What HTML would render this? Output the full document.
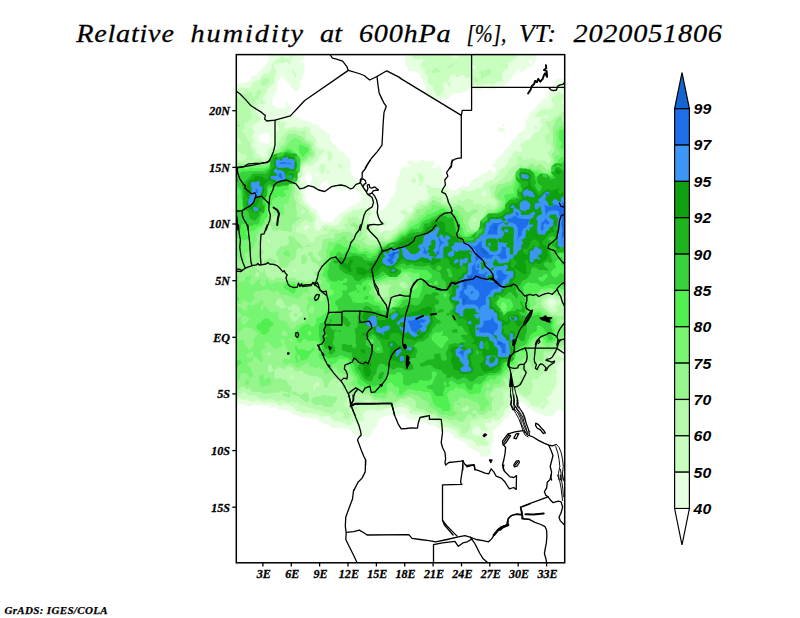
<!DOCTYPE html>
<html><head><meta charset="utf-8"><title>Relative humidity at 600hPa</title>
<style>
html,body{margin:0;padding:0;background:#fff;}
body{width:800px;height:618px;overflow:hidden;font-family:"Liberation Sans",sans-serif;}
svg{display:block}
.t{font-family:"Liberation Serif",serif;font-style:italic;font-size:25px;fill:#000;stroke:#000;stroke-width:0.25}
.ax{font-family:"Liberation Serif",serif;font-style:italic;font-weight:bold;font-size:13px;fill:#000;stroke:#000;stroke-width:0.3}
.cb{font-family:"Liberation Sans",sans-serif;font-style:italic;font-weight:bold;font-size:15px;fill:#000}
.ft{font-family:"Liberation Serif",serif;font-style:italic;font-weight:bold;font-size:11px;fill:#000;stroke:#000;stroke-width:0.25}
.b{fill:none;stroke:#000;stroke-width:1.3;stroke-linejoin:round;stroke-linecap:round}
</style></head><body>
<svg width="800" height="618" viewBox="0 0 800 618">
<rect width="800" height="618" fill="#fff"/>
<text class="t" transform="translate(76.2,42.2) scale(1.130,1)" x="0" y="0" textLength="86.5" lengthAdjust="spacing">Relative</text>
<text class="t" transform="translate(190.5,42.2) scale(1.130,1)" x="0" y="0" textLength="99.6" lengthAdjust="spacing">humidity</text>
<text class="t" transform="translate(320,42.2) scale(1.130,1)" x="0" y="0" textLength="19.5" lengthAdjust="spacing">at</text>
<text class="t" transform="translate(359,42.2) scale(1.130,1)" x="0" y="0" textLength="81.0" lengthAdjust="spacing">600hPa</text>
<text class="t" x="466.5" y="42.2" textLength="40.0" lengthAdjust="spacingAndGlyphs">[%],</text>
<text class="t" transform="translate(519,42.2) scale(1.025,1)" x="0" y="0" textLength="36.1" lengthAdjust="spacing">VT:</text>
<text class="t" transform="translate(573.5,42.2) scale(1.130,1)" x="0" y="0" textLength="131.4" lengthAdjust="spacing">2020051806</text>
<defs><clipPath id="mc"><rect x="236.3" y="54.6" width="328.4" height="508.2"/></clipPath></defs>
<g clip-path="url(#mc)">
<path fill="#e6ffe1" fill-rule="evenodd" d="M504.3,124.1 502.8,124.1 501.8,125.1 501.8,126.1 503.3,127.1 502.3,128.6 499.8,127.1 498.3,128.1 497.8,130.6 499.3,132.1 503.8,132.1 504.8,130.6 504.8,129.1 503.8,128.1 503.8,127.1 504.8,125.6ZM404.8,62.6 405.8,65.6 407.3,67.1 408.3,70.1 409.8,71.6 413.8,71.1 419.3,73.6 420.8,77.6 424.3,83.1 424.3,86.1 425.3,88.6 425.3,90.6 423.8,92.6 423.8,93.6 425.3,93.6 427.3,94.6 431.3,98.6 433.3,99.6 435.8,99.6 436.3,100.1 437.8,99.6 442.3,99.6 442.8,100.1 444.3,100.1 448.8,97.6 452.8,93.1 460.3,93.6 467.3,90.6 469.3,88.6 473.8,89.1 476.3,90.6 480.3,90.6 483.8,88.6 486.8,88.6 488.8,89.6 494.3,89.6 497.3,87.6 502.3,87.1 505.8,85.1 508.3,82.6 510.3,78.6 513.3,76.1 517.8,68.6 518.8,68.6 519.8,69.6 520.3,72.1 521.8,72.6 525.3,70.1 528.8,66.6 531.3,66.1 535.8,61.1 536.3,54.6 404.8,54.6 405.3,55.6 405.3,59.1 405.8,59.6ZM528.8,61.6 529.8,60.1 530.8,60.1 532.8,62.6 531.8,63.6 530.3,63.6ZM268.3,54.6 268.3,56.6 269.3,59.1 268.3,62.1 263.3,67.1 262.8,68.6 258.3,72.6 258.3,74.1 256.8,75.6 254.3,75.6 251.8,76.6 250.3,78.1 249.8,80.1 247.3,82.1 243.8,82.6 239.3,84.1 236.3,84.1 236.3,404.6 239.3,404.6 239.8,404.1 240.8,404.6 244.3,404.6 247.3,406.1 251.3,406.1 253.8,404.6 254.8,404.6 256.3,405.6 261.3,405.6 261.8,405.1 262.8,405.6 267.3,405.6 270.3,407.6 274.3,407.6 274.8,407.1 278.8,409.6 283.3,410.1 283.8,410.6 288.3,410.6 290.3,411.6 291.8,414.1 293.8,415.1 298.3,415.6 302.3,417.6 307.3,417.6 310.3,418.6 316.8,418.6 319.3,421.1 321.8,422.1 323.3,424.1 324.8,424.6 325.8,424.1 328.3,424.1 331.3,427.6 332.8,428.1 336.8,428.1 337.3,428.6 339.8,427.6 342.3,427.6 344.8,429.1 347.8,429.1 350.8,430.6 355.3,435.6 359.3,435.6 365.3,437.6 368.3,437.1 371.3,435.6 372.3,433.1 372.3,431.1 376.3,426.6 380.3,417.6 385.8,416.6 387.8,415.6 397.3,416.1 404.3,414.1 405.8,417.6 408.3,418.1 413.3,420.6 418.8,421.1 423.3,422.6 426.8,422.6 429.8,425.1 433.8,425.1 438.3,429.1 443.8,431.6 448.8,432.6 451.8,434.1 454.8,438.1 457.3,438.6 460.3,440.6 466.3,442.6 467.3,444.1 467.8,446.6 469.3,448.1 471.3,448.6 478.8,452.6 480.3,454.1 480.8,455.6 482.8,457.1 487.8,456.6 490.8,454.1 491.3,452.6 490.8,448.1 493.8,441.1 493.8,437.6 493.3,437.1 492.8,431.6 497.3,427.6 504.8,419.1 508.3,417.1 512.3,409.6 518.8,402.1 519.8,401.6 522.8,402.1 524.3,403.1 526.8,406.6 529.3,408.6 530.3,408.6 533.3,410.1 536.8,413.1 542.3,414.6 545.3,416.6 551.8,416.1 553.8,415.1 556.3,411.6 559.3,410.1 561.3,410.1 563.3,411.6 564.3,411.6 564.3,78.6 559.8,78.6 556.8,79.6 552.8,86.1 548.8,90.1 548.3,91.1 548.8,92.6 548.3,95.6 545.8,98.1 541.8,100.1 540.3,102.6 536.8,105.6 535.3,108.1 529.8,113.1 528.8,114.6 528.8,116.1 529.3,116.6 528.8,118.1 527.8,119.1 526.3,119.1 525.8,117.6 526.8,115.1 525.3,115.6 525.3,117.6 525.8,118.1 525.3,124.6 525.8,125.6 524.8,129.1 522.8,131.1 521.8,131.1 520.3,132.1 516.8,135.6 515.3,138.1 512.3,140.6 510.3,145.1 505.3,149.6 502.8,154.1 500.3,155.6 497.8,158.1 496.3,162.1 495.3,163.1 492.8,164.1 492.3,166.6 495.8,167.6 495.8,170.6 494.3,172.6 492.3,172.6 490.8,170.1 489.3,170.1 486.3,173.1 484.3,174.1 482.8,174.1 480.8,175.1 478.8,177.1 473.3,179.1 470.3,182.1 468.8,185.6 467.8,186.6 465.3,186.6 464.8,186.1 461.8,186.6 457.8,188.6 456.3,190.1 452.8,190.6 450.3,189.6 444.8,183.6 443.8,177.6 442.3,174.1 442.3,170.6 441.3,167.6 438.8,165.1 435.8,164.1 432.8,160.6 430.3,160.6 428.8,161.6 425.3,161.6 423.3,160.1 421.3,159.6 417.3,163.1 415.8,163.1 412.3,160.6 408.3,160.6 406.8,161.6 406.8,162.6 409.8,165.6 409.8,166.6 409.3,167.1 403.8,167.1 402.3,168.1 399.8,172.1 399.8,175.1 397.3,179.6 396.3,182.6 396.3,184.6 395.8,185.1 395.8,191.1 394.8,192.1 394.8,193.6 393.3,196.6 390.3,198.6 389.8,201.1 387.3,204.1 385.8,207.6 383.3,210.1 379.8,210.6 377.8,208.1 377.8,206.1 375.3,201.6 374.3,196.6 373.3,195.6 369.8,195.6 368.8,195.1 367.8,193.6 367.8,192.6 362.3,192.6 361.8,192.1 361.8,191.1 362.8,189.6 362.8,183.1 363.3,182.6 362.8,181.1 361.8,180.1 359.3,180.1 358.3,181.1 356.3,181.1 355.3,180.1 354.3,177.6 351.3,174.6 351.3,172.1 350.3,170.1 348.3,169.1 348.8,168.1 349.8,168.1 350.8,167.1 351.3,165.6 350.3,162.6 350.3,159.1 347.3,157.1 344.3,153.6 340.8,151.6 337.8,148.6 336.8,146.6 332.8,143.6 332.3,142.1 330.3,140.1 329.8,138.6 330.3,135.6 328.8,133.6 326.3,133.1 323.3,130.1 320.8,129.1 318.8,125.6 316.8,124.1 313.8,124.6 310.8,122.1 302.3,120.1 292.3,114.1 289.8,114.1 288.3,113.1 290.8,110.6 290.8,108.6 287.8,105.1 288.3,104.1 287.8,101.6 286.8,101.1 285.8,102.1 286.3,106.1 284.3,108.6 278.8,108.1 275.3,106.1 273.3,106.1 272.3,105.1 272.3,100.6 272.8,100.1 272.3,99.6 272.3,98.1 273.3,96.1 276.8,92.1 276.8,90.1 277.3,89.6 277.3,82.6 281.3,76.6 283.8,78.1 288.3,82.6 290.3,86.1 294.8,91.1 296.8,91.6 299.3,88.6 300.8,85.6 300.3,81.6 302.8,79.6 302.8,75.1 304.8,71.6 304.3,70.1 304.8,63.6 304.3,63.1 301.3,63.6 300.3,62.1 303.8,58.6 304.8,54.6ZM316.3,173.1 318.3,174.6 316.8,176.6 315.3,175.1 315.3,174.1ZM306.3,173.6 307.8,172.1 309.3,172.1 310.8,173.6 311.8,177.1 311.8,180.6 310.3,182.6 309.8,184.6 311.8,186.1 315.3,190.1 318.3,190.6 320.3,188.1 320.3,185.1 320.8,184.1 326.3,180.1 327.3,180.1 328.3,183.6 331.8,187.1 333.8,188.1 337.3,188.6 340.3,190.1 345.3,190.1 347.8,189.1 350.3,187.1 351.8,187.1 353.3,189.1 358.3,191.6 360.8,192.1 361.3,192.6 361.3,201.1 357.8,203.6 349.3,207.1 345.3,211.1 344.3,211.1 340.3,213.1 332.3,221.6 331.3,222.1 323.3,221.6 320.8,220.1 319.8,216.1 318.3,213.6 317.3,210.1 310.8,206.1 307.8,203.1 305.8,200.1 305.3,196.1 304.8,195.6 304.8,191.1 308.3,185.1 305.3,179.6 305.3,176.6ZM432.3,168.1 432.8,165.6 434.3,164.6 436.8,165.1 437.8,166.6 436.8,168.1 434.8,168.1 434.3,168.6 432.8,168.6ZM258.8,135.1 260.3,134.1 262.3,134.1 264.8,133.1 267.3,133.1 268.3,133.6 269.3,135.1 269.3,137.1 269.8,137.6 269.8,142.1 268.3,143.6 263.8,143.6 262.3,143.1 259.3,140.1 258.3,138.1Z"/>
<path fill="#c8ffbe" fill-rule="evenodd" d="M383.3,221.1 381.3,224.1 382.3,225.6 385.3,226.6 386.8,224.1 386.8,223.1 385.8,221.6ZM415.3,178.6 412.3,178.6 411.3,179.6 412.8,183.1 413.8,183.1 415.3,182.1 416.3,180.1ZM418.3,173.6 417.3,175.1 418.3,176.1 418.3,180.1 419.8,182.1 419.8,183.1 418.8,184.6 418.8,186.1 420.3,186.6 420.8,186.1 420.8,182.6 423.3,181.1 424.3,179.6 421.8,175.1 419.8,173.6ZM326.3,171.6 326.3,172.6 327.8,174.1 329.3,173.6 329.8,172.1 329.3,171.1ZM337.8,163.6 337.8,165.6 339.8,168.1 342.3,167.6 342.3,166.1 338.8,163.6ZM321.3,163.6 319.8,166.1 318.8,169.6 321.3,173.1 321.8,175.1 322.8,175.1 323.3,172.6 324.3,171.6 324.3,170.1 325.8,167.6 325.8,166.6 324.8,164.6ZM327.8,151.1 326.8,152.6 327.8,155.1 327.8,158.6 328.8,160.1 328.8,161.6 329.8,162.1 330.3,161.6 330.3,159.6 332.3,157.6 332.3,155.6 330.8,152.1 329.8,151.1ZM535.3,126.6 534.3,128.1 534.8,129.1 536.3,129.6 537.3,128.1 536.3,126.6ZM563.3,85.1 561.8,86.6 561.8,88.6 564.3,90.1 564.3,85.1ZM291.8,69.6 291.8,71.1 293.3,73.1 293.3,74.1 294.8,77.1 295.8,77.6 296.8,75.6 295.8,73.6 293.8,71.6 293.3,70.1ZM412.8,54.6 412.8,58.1 414.3,59.6 417.8,59.6 418.3,59.1 421.8,58.6 423.3,60.1 422.8,62.1 420.3,64.6 420.3,66.6 421.8,67.1 424.8,70.1 424.8,72.1 424.3,72.6 424.8,73.6 428.3,76.1 428.3,79.1 427.3,81.1 427.3,82.6 428.3,84.1 431.3,85.1 433.3,87.6 433.3,90.1 435.3,92.1 436.8,96.1 438.8,96.1 440.3,94.1 443.3,91.6 443.8,90.6 443.8,87.6 442.3,84.6 443.8,82.6 444.8,82.1 446.3,82.6 448.3,85.6 449.8,85.6 450.8,84.6 450.8,83.1 448.3,81.6 448.3,80.1 449.3,79.1 450.8,75.6 452.3,74.1 454.8,74.6 456.8,77.1 458.3,77.1 459.8,75.6 461.8,74.6 463.3,74.6 465.8,78.1 469.3,77.6 471.3,80.1 469.8,83.1 471.8,85.1 482.8,85.6 487.8,83.6 488.8,83.6 491.8,85.1 493.3,85.1 496.8,82.1 498.3,81.6 502.3,81.6 503.3,80.6 502.3,77.6 502.3,73.1 503.3,71.1 504.8,69.6 507.3,69.1 508.8,68.1 508.3,67.6 508.3,63.1 508.8,62.6 511.8,61.6 514.8,58.6 517.3,57.6 516.3,56.1 516.3,54.6 478.3,54.6 476.8,56.6 475.8,56.6 474.8,54.6 458.8,54.6 458.3,56.1 456.3,58.1 453.3,58.1 452.3,57.6 451.3,56.1 451.3,54.6ZM472.3,64.6 474.3,65.1 475.8,67.1 475.8,68.1 474.3,69.6 472.8,69.6 471.3,68.1 471.3,65.6ZM281.3,54.6 280.8,57.1 278.8,59.6 276.3,59.6 271.8,64.6 270.8,71.1 268.8,73.6 264.8,73.6 263.3,74.1 261.8,75.6 260.8,78.6 259.3,80.1 255.3,81.1 251.8,84.1 251.3,86.6 249.8,88.1 245.3,88.6 243.8,87.6 241.3,87.6 236.3,90.6 237.8,93.6 236.3,94.6 236.3,398.1 239.3,398.1 242.8,400.1 243.8,399.6 247.3,399.6 250.3,401.6 257.8,400.6 259.3,401.6 263.3,402.1 263.8,402.6 267.3,402.6 267.8,402.1 274.8,402.6 278.3,404.6 279.8,406.1 281.3,406.1 282.8,404.1 285.3,404.1 293.8,407.1 294.8,408.1 295.3,410.1 296.8,411.1 300.8,411.6 303.3,413.1 309.3,412.6 311.3,414.1 316.8,414.6 320.8,416.6 326.3,416.6 326.8,416.1 329.8,416.6 332.3,418.6 333.8,421.1 335.3,421.6 337.8,421.1 340.8,422.6 343.8,422.6 346.8,425.1 348.3,425.6 350.3,425.6 350.8,424.6 353.8,422.1 357.8,423.6 359.8,421.6 362.8,421.1 363.8,420.1 363.3,418.6 363.3,413.1 366.3,410.6 372.3,409.6 373.3,410.6 377.8,411.1 378.3,410.6 382.8,410.1 384.8,408.6 386.8,408.6 387.3,408.1 392.3,408.1 395.3,409.1 397.3,407.6 400.3,406.6 403.3,407.6 406.3,407.6 409.3,410.1 409.3,413.1 410.8,414.6 419.8,414.6 424.8,417.6 430.3,417.6 431.8,419.1 432.3,420.6 433.8,420.6 438.3,422.6 439.8,424.1 439.8,425.1 441.8,426.6 443.8,426.6 444.3,427.1 445.3,426.6 446.8,427.6 448.8,427.6 451.3,429.1 455.8,430.1 457.8,432.1 457.8,433.6 459.3,436.6 461.8,437.6 464.3,437.6 467.8,439.6 471.8,439.1 475.8,443.6 477.3,446.1 479.3,446.1 479.8,445.6 484.3,445.6 485.8,446.1 487.3,445.6 488.3,444.6 488.8,442.6 486.3,440.1 481.3,436.6 479.8,436.1 475.8,436.1 472.3,433.6 471.8,431.6 473.8,427.6 475.3,426.1 478.3,426.6 482.3,431.1 484.3,431.1 486.3,432.1 487.8,429.6 485.3,425.6 484.8,423.6 485.8,422.6 488.3,422.6 488.8,423.1 490.8,422.6 491.3,422.1 491.3,420.1 492.8,419.1 495.3,421.1 497.3,421.1 499.3,420.1 504.3,414.1 503.8,412.1 505.3,409.1 509.8,405.6 510.3,404.1 509.8,400.1 510.3,399.6 513.8,399.6 515.3,398.6 515.3,397.1 514.3,395.1 515.8,393.6 517.8,393.6 520.8,397.1 526.3,399.6 527.8,399.6 529.3,401.6 529.8,404.1 532.8,406.6 539.8,406.1 540.8,407.1 541.3,409.1 542.8,409.1 545.3,407.6 546.3,405.1 548.8,403.6 548.8,402.1 546.8,399.6 546.3,398.1 551.3,395.1 551.8,394.1 551.8,390.6 552.3,390.1 553.8,390.1 554.8,389.1 554.8,387.6 556.8,384.6 556.8,382.6 556.3,382.1 556.8,375.6 556.3,375.1 557.3,373.1 557.3,371.6 555.8,368.6 556.3,366.6 557.8,365.1 558.3,363.1 560.8,360.6 564.3,361.1 564.3,357.6 561.3,357.1 557.8,354.6 557.8,354.1 560.8,351.6 564.3,351.6 564.3,103.6 562.8,103.6 561.3,102.6 561.8,101.6 564.3,101.6 564.3,94.1 562.3,94.1 559.8,92.6 558.8,92.6 556.8,95.1 552.8,96.6 551.3,98.6 551.8,101.1 552.8,102.6 552.8,106.1 551.8,108.1 549.8,109.6 542.8,109.1 540.8,110.1 536.3,114.1 535.3,115.6 535.3,117.1 535.8,117.6 537.3,117.6 538.8,116.6 542.3,117.6 540.8,119.1 540.8,122.1 542.3,124.6 542.3,126.1 539.8,128.6 538.8,131.6 537.8,132.6 536.3,131.6 535.3,132.1 528.8,140.6 527.8,140.6 526.3,139.6 525.8,141.1 524.3,142.6 521.3,143.1 519.8,144.6 522.3,149.1 522.3,151.1 521.3,152.1 519.8,152.1 519.3,151.6 516.8,151.6 514.8,150.1 510.8,157.6 508.8,159.6 507.8,162.1 507.8,163.6 506.8,165.1 505.8,165.6 503.8,168.1 500.3,169.1 499.3,170.1 499.3,172.6 495.8,176.1 493.8,179.6 491.8,180.6 489.3,180.6 487.3,182.1 485.3,182.6 483.3,184.6 482.3,187.6 480.3,188.6 479.3,188.6 478.3,187.6 476.8,187.6 474.3,190.6 471.3,190.6 469.3,191.6 466.8,191.6 463.8,190.1 462.3,190.1 461.3,190.6 460.3,194.1 458.3,195.6 454.3,195.6 451.8,198.6 449.3,199.1 448.3,198.6 447.3,197.1 447.3,192.6 446.3,190.6 442.3,188.6 440.3,188.6 438.3,187.6 432.8,188.1 430.8,187.1 428.8,185.1 425.8,184.6 425.8,186.1 427.8,188.6 427.8,192.6 429.3,196.1 428.8,197.6 426.3,200.1 423.8,201.1 422.8,201.1 420.3,199.6 417.8,203.1 415.3,204.6 413.3,206.6 412.3,211.1 410.8,212.6 407.8,212.6 403.3,210.1 401.3,210.1 400.8,210.6 400.8,213.6 404.3,215.1 405.3,217.1 400.3,223.6 391.8,231.1 384.3,230.6 382.8,232.1 380.8,233.1 379.3,233.1 377.3,231.1 377.3,229.1 378.3,227.1 378.3,225.6 377.3,225.6 374.3,229.6 372.8,228.6 372.3,224.1 368.3,222.1 368.3,219.1 369.3,217.1 371.8,214.6 371.8,213.6 370.3,211.6 370.8,211.1 371.3,207.1 369.8,207.1 368.3,208.1 364.3,208.1 362.3,209.6 361.8,209.1 360.3,209.1 359.8,209.6 354.3,209.6 352.8,210.1 351.3,212.1 349.3,212.6 344.8,215.1 340.3,221.1 339.8,223.1 337.8,225.1 335.8,225.1 335.3,225.6 328.8,225.6 326.8,224.6 323.8,224.6 321.8,226.6 320.3,229.6 318.8,231.1 317.3,231.1 314.8,228.6 314.8,226.1 314.3,225.6 314.3,223.6 316.3,219.6 315.8,214.6 314.3,213.1 310.8,211.6 308.8,207.6 304.3,203.6 302.3,199.6 302.3,194.6 300.8,191.6 300.8,188.6 301.8,187.1 301.8,186.1 299.8,184.1 299.8,179.1 302.8,174.1 302.8,168.6 303.3,167.6 305.8,165.6 309.3,165.6 309.8,166.1 312.3,165.6 314.8,163.1 317.8,161.1 318.3,158.1 319.3,156.1 324.8,151.1 322.8,148.6 321.8,149.1 319.3,148.6 316.3,146.1 315.8,144.1 316.8,142.6 316.8,141.1 315.8,139.6 315.8,138.6 310.8,134.1 310.3,130.6 309.3,128.1 308.3,127.1 305.8,126.6 302.3,127.6 301.3,128.6 298.8,128.6 295.3,126.6 293.3,126.6 291.8,127.6 289.8,127.6 287.3,128.6 284.8,128.6 283.8,127.6 284.3,127.1 284.3,125.6 286.3,123.1 285.8,122.1 284.3,121.1 282.8,122.1 280.3,122.1 277.3,118.6 276.3,118.6 275.3,119.6 275.3,121.1 278.8,125.6 279.3,128.1 278.8,129.6 276.8,131.6 275.8,131.6 274.3,132.6 274.8,134.1 274.8,136.6 274.3,137.1 274.3,145.1 267.3,150.1 266.8,151.1 267.8,153.6 267.3,156.6 265.3,158.6 262.8,158.1 259.3,154.6 257.8,154.6 256.3,153.1 255.3,148.6 252.8,146.6 252.8,144.6 253.8,142.6 253.8,140.1 251.8,137.1 252.8,134.6 253.8,133.6 254.3,131.1 252.3,127.1 252.3,126.1 254.3,124.1 258.8,122.1 259.8,121.1 260.8,118.6 260.3,117.1 256.3,114.1 255.8,112.1 257.8,109.1 257.8,105.6 258.8,104.1 259.8,103.6 263.3,104.6 264.8,104.1 264.8,101.6 262.8,99.6 262.8,97.6 264.3,95.1 266.8,93.1 267.3,92.1 267.3,89.6 271.3,85.1 273.8,83.6 274.3,82.1 274.3,77.6 276.3,73.6 276.3,71.1 273.8,68.1 273.8,65.6 274.8,64.1 279.3,62.1 280.8,63.1 284.3,63.1 286.8,62.1 289.3,64.1 290.3,63.6 290.3,60.1 292.3,57.1 292.8,54.6 289.8,54.6 289.8,57.6 288.3,59.1 286.8,59.1 284.8,58.1 282.8,56.1 282.3,54.6ZM540.3,404.6 541.3,402.6 542.8,402.6 543.3,403.1 543.3,404.6 542.3,405.6 541.3,405.6ZM552.3,298.6 556.3,302.1 556.3,303.6 554.3,305.1 552.3,307.6 550.8,308.1 548.8,305.6 547.8,301.6 549.3,299.6 550.8,298.6ZM309.8,226.6 307.8,229.1 306.3,229.6 303.8,229.6 303.3,229.1 303.3,228.1 305.3,225.6 307.8,225.1ZM485.3,189.6 485.8,190.1 486.3,194.6 485.3,196.1 483.8,196.6 482.3,196.1 481.3,195.1 481.3,194.1 483.3,190.6 484.3,189.6ZM543.3,117.1 545.3,115.6 546.8,115.6 548.3,116.6 547.3,118.1 543.8,118.1Z"/>
<path fill="#b4faaa" fill-rule="evenodd" d="M354.8,407.1 353.8,408.1 353.8,409.1 355.3,410.6 356.8,410.6 357.3,410.1 356.8,407.6 356.3,407.1ZM324.3,228.1 323.8,229.1 324.3,230.6 325.3,231.1 327.3,230.6 327.3,228.6 326.8,228.1ZM236.3,98.1 236.3,137.6 238.3,138.1 240.3,140.1 241.8,142.6 240.3,144.6 236.3,144.1 236.3,150.6 237.8,151.1 241.8,154.1 244.8,154.1 246.8,155.6 246.8,157.6 242.8,161.1 240.3,161.1 236.3,159.1 236.3,396.1 239.3,395.1 244.3,391.6 246.8,393.6 247.3,395.1 248.3,395.6 250.8,395.6 251.8,396.1 253.8,395.1 255.8,395.1 259.8,398.6 261.3,398.6 263.3,399.6 267.8,399.6 270.3,398.6 276.8,401.1 279.3,401.1 280.8,400.1 282.3,400.1 286.8,402.6 288.8,402.6 291.3,401.6 292.3,401.6 293.8,402.6 295.3,402.6 296.8,401.6 297.8,402.1 299.8,404.6 304.8,405.6 307.3,407.1 313.3,408.6 315.8,410.1 319.8,410.1 322.8,411.1 324.8,412.6 328.8,413.1 331.3,414.6 333.8,414.6 336.3,411.6 339.3,411.1 340.8,412.1 341.8,412.1 343.8,414.6 342.8,417.6 343.8,419.1 345.3,419.6 348.3,419.6 351.3,416.1 350.8,414.1 348.8,411.6 349.3,411.1 349.3,409.1 350.3,407.6 346.8,407.6 344.8,406.6 343.8,405.1 343.8,403.6 345.8,401.1 346.3,398.6 347.3,397.1 348.8,397.1 349.3,396.6 350.8,397.1 351.8,398.1 352.3,400.1 354.8,402.6 357.8,403.6 359.3,405.1 360.3,405.1 362.8,401.6 366.8,399.6 368.3,399.6 370.3,400.6 372.3,402.6 375.8,403.6 377.3,405.1 377.3,407.6 378.3,407.6 379.3,406.1 380.8,405.1 382.3,405.1 384.3,406.1 395.8,405.6 399.3,402.6 401.8,402.1 405.8,404.6 409.8,406.1 413.8,411.1 422.3,412.1 424.8,414.1 432.8,415.1 434.8,416.1 437.8,419.6 439.8,419.6 446.3,422.6 448.8,423.1 453.3,426.1 458.3,427.1 459.8,428.6 461.3,431.6 461.3,433.6 464.3,433.6 464.8,433.1 466.8,433.1 470.3,428.1 469.8,421.6 471.8,420.1 476.8,420.6 477.3,419.1 479.3,417.6 481.8,417.6 483.8,419.1 486.3,419.1 491.3,416.6 496.8,416.1 496.8,415.1 495.8,413.6 495.8,412.1 496.8,411.1 498.8,410.6 500.3,408.1 502.3,406.6 504.3,404.1 503.3,400.6 503.3,398.6 502.8,398.1 503.8,396.1 503.8,393.6 502.8,390.6 503.8,389.6 505.3,389.6 506.8,390.6 509.3,390.6 510.3,391.6 514.8,390.1 516.8,390.1 519.8,392.1 523.8,396.1 525.3,396.6 525.8,396.1 527.8,396.1 529.3,395.1 531.3,392.6 531.3,389.6 533.3,387.6 533.3,384.6 531.3,380.6 533.3,379.1 537.8,378.6 542.3,373.6 544.8,372.6 547.3,372.6 547.3,368.6 547.8,367.1 548.8,366.6 550.3,368.1 551.3,368.1 552.3,366.6 552.3,365.1 553.8,362.1 553.3,361.6 551.8,361.6 551.3,362.1 548.8,361.6 547.3,360.1 547.3,357.6 548.8,355.6 551.8,354.6 554.8,351.6 560.8,349.1 564.3,349.1 564.3,302.1 562.3,301.1 564.3,300.1 564.3,111.6 562.8,111.6 557.8,115.6 556.8,115.6 554.3,117.1 551.3,121.6 546.8,121.1 545.8,122.1 545.8,123.6 547.3,125.6 547.3,127.1 549.3,130.1 549.3,132.6 546.8,134.6 545.3,135.1 544.3,136.6 546.3,140.6 546.3,144.6 547.8,144.6 548.3,144.1 549.8,144.6 550.8,145.6 550.8,147.1 551.3,147.6 550.8,149.6 547.8,152.1 547.3,153.1 550.8,160.1 550.3,162.1 547.8,164.1 545.3,160.6 535.8,160.6 533.3,157.6 531.3,158.6 526.8,159.1 524.3,160.6 521.8,159.1 521.8,158.1 520.8,156.6 519.8,156.1 517.3,156.6 516.8,158.1 517.8,159.1 518.8,161.6 516.8,164.6 514.8,166.6 510.8,167.6 508.3,170.1 508.3,172.6 501.8,179.6 495.8,183.6 494.8,183.6 489.3,186.6 489.8,191.1 491.3,195.1 491.3,197.6 492.3,198.6 494.3,199.1 496.3,201.6 496.3,204.1 494.3,206.6 492.8,206.6 489.3,203.1 484.8,206.1 483.8,206.1 480.8,204.1 474.3,204.1 472.8,203.1 472.8,201.1 473.8,200.1 473.8,199.1 473.3,199.6 470.3,199.6 467.8,198.6 466.8,198.6 463.3,201.6 462.3,201.6 458.8,199.6 456.8,201.1 456.3,202.6 454.8,204.1 453.8,204.1 450.3,201.1 448.3,201.1 445.3,203.1 443.8,203.1 442.3,201.6 441.8,198.6 440.8,197.1 437.3,197.6 434.3,196.1 432.3,196.1 430.3,199.6 426.8,203.6 423.8,204.6 421.3,204.6 416.8,207.1 415.3,208.6 413.8,212.6 408.3,217.6 407.8,219.1 405.8,220.6 404.8,222.1 404.3,224.6 398.8,228.6 395.3,232.6 392.8,234.1 390.3,237.6 387.3,239.6 384.3,239.1 382.3,236.6 379.3,236.6 374.8,240.6 373.8,240.1 370.8,240.6 368.8,238.6 366.3,232.6 367.3,231.1 370.3,230.1 370.3,227.6 368.8,226.1 365.8,226.1 364.3,224.6 364.3,220.6 363.3,219.6 359.3,219.6 357.8,217.1 352.3,216.6 351.8,217.1 348.8,217.1 347.3,218.1 347.8,222.6 345.8,224.1 343.8,223.6 343.3,225.6 346.3,228.1 345.3,229.1 342.8,229.1 342.3,229.6 338.8,230.1 335.8,228.6 333.8,228.6 333.3,228.1 330.8,228.6 328.3,230.6 328.3,232.1 327.3,233.1 324.8,234.1 320.8,234.6 319.8,235.6 315.3,237.6 314.8,238.6 314.8,241.6 312.8,242.6 312.3,242.1 310.8,242.1 307.8,239.6 307.3,237.1 305.8,235.1 300.8,233.6 299.8,232.6 297.3,233.1 296.3,232.1 295.8,230.1 296.3,229.6 296.3,227.1 299.3,226.1 300.3,223.6 301.8,222.1 305.8,220.1 306.8,220.1 309.8,222.1 311.8,222.1 312.8,221.1 312.8,218.6 308.8,213.6 307.8,210.1 303.3,206.1 300.8,205.1 299.3,203.6 298.8,200.1 296.8,196.6 299.3,195.1 299.3,194.1 297.8,191.1 297.3,182.1 297.8,181.6 298.3,176.1 300.3,171.6 300.8,167.1 302.8,164.6 308.8,162.6 311.3,161.1 314.8,157.6 315.8,155.1 315.8,151.1 313.3,146.6 313.3,142.6 311.8,141.1 308.3,140.1 306.3,138.1 305.3,136.1 305.3,134.1 306.3,132.1 305.8,131.1 304.8,130.6 300.8,132.1 298.8,131.6 295.8,129.6 293.8,129.6 291.3,130.6 288.3,130.6 286.3,132.1 285.3,134.1 282.8,136.6 280.3,137.1 281.3,140.1 277.8,142.6 276.8,147.1 275.8,148.1 273.3,149.1 271.8,150.6 270.3,154.6 270.3,156.6 267.3,160.1 265.3,161.1 262.8,161.1 259.3,158.6 258.3,158.6 256.8,159.6 254.3,158.6 252.8,156.1 253.3,151.6 250.3,148.1 250.3,142.6 248.3,141.1 247.3,138.1 244.8,135.1 244.3,133.1 242.8,132.1 241.8,132.1 241.3,130.6 244.3,128.6 244.3,125.6 243.8,125.1 244.3,123.6 245.8,122.1 247.3,122.1 248.3,120.6 251.3,118.1 251.8,115.6 250.8,112.1 249.3,109.6 249.3,108.1 254.3,103.6 255.3,101.6 255.3,100.1 258.3,98.6 259.3,95.6 261.3,93.1 261.3,90.6 259.8,90.1 254.3,93.1 256.3,95.1 254.8,97.1 253.3,97.1 252.3,95.6 252.8,93.1 251.8,93.1 250.3,92.1 248.8,92.1 246.3,93.6 242.8,93.6 240.8,95.1 240.8,96.6 239.3,98.6ZM318.3,382.1 319.8,383.6 320.3,385.1 317.8,387.1 316.8,387.1 315.3,389.6 313.8,390.6 312.8,389.6 313.3,385.6 316.3,382.1ZM289.3,376.1 289.8,375.6 293.8,375.6 294.8,376.6 294.8,377.6 293.8,379.1 291.8,379.1 289.3,377.1ZM550.8,295.6 551.8,295.6 556.3,298.6 558.3,299.1 561.3,301.6 560.3,303.6 556.8,306.6 556.8,308.6 557.8,310.1 557.8,311.1 555.3,312.6 551.3,312.6 546.8,308.1 546.3,306.6 544.3,304.1 544.3,302.1 545.3,300.1 548.3,298.1 548.3,297.6ZM293.3,270.6 294.3,269.6 295.3,269.6 296.3,270.6 296.3,271.6 295.3,272.6 293.8,272.6 293.3,272.1ZM267.3,241.1 268.3,239.6 269.8,239.6 270.3,240.1 270.3,241.6 269.8,242.1 267.8,242.1ZM475.8,217.6 476.3,218.1 476.3,220.1 475.3,221.6 473.8,222.1 472.8,221.1 472.8,220.1 474.3,217.6ZM303.8,209.1 305.3,210.6 305.3,212.6 304.3,213.6 302.3,213.6 300.8,212.6 300.8,211.6ZM267.3,78.1 264.8,78.1 262.8,80.1 261.3,82.6 261.3,84.6 262.3,86.1 265.3,85.6 267.8,84.1 269.3,81.6 269.3,79.6ZM473.8,76.6 473.3,78.1 473.8,80.6 475.8,82.1 477.3,82.1 478.3,81.1 478.3,80.1 475.3,77.1ZM490.3,69.1 486.3,69.6 483.8,71.1 481.3,71.1 480.3,70.1 479.8,70.6 479.3,72.6 480.3,74.1 480.8,78.6 481.8,80.1 482.8,79.6 482.8,78.1 483.8,77.1 486.8,76.6 489.8,75.1 491.3,71.6ZM431.8,71.6 432.3,72.6 433.3,73.1 435.8,73.1 441.3,71.1 441.3,70.1 438.3,69.6 435.8,68.1 434.3,68.1ZM453.3,64.1 452.8,63.6 450.8,65.1 447.8,66.1 447.8,67.1 449.3,68.1 453.3,65.1Z"/>
<path fill="#96f58c" fill-rule="evenodd" d="M311.3,400.1 311.8,402.6 315.3,405.1 318.8,405.1 321.3,404.1 322.3,404.6 323.8,406.6 325.3,407.1 329.3,406.6 332.3,407.6 332.8,407.1 332.8,404.1 335.8,401.6 336.8,399.6 336.8,397.1 336.3,396.6 330.3,396.6 328.8,395.6 322.8,395.1 321.3,396.1 314.3,397.1 313.3,397.6ZM521.3,380.1 520.3,380.6 517.3,384.1 518.3,385.6 520.3,385.6 523.3,383.6ZM520.3,375.1 519.8,376.6 520.3,377.1 520.3,378.6 521.3,379.1 522.3,378.1 521.8,375.6ZM536.3,369.6 536.3,370.6 537.3,371.6 538.8,371.6 540.3,370.6 540.3,370.1 538.3,368.6ZM293.8,314.6 293.8,315.1 295.3,316.1 297.3,316.1 297.8,315.6 297.8,314.1 297.3,313.6 294.8,313.6ZM304.8,255.1 302.3,255.1 300.8,256.6 301.3,257.6 301.3,262.6 301.8,264.1 303.3,264.1 305.8,263.1 306.8,261.1 306.8,256.1ZM309.8,245.1 307.8,245.1 304.8,246.6 304.8,247.1 307.3,247.1 310.3,246.1ZM303.3,246.6 302.3,246.1 298.3,241.6 296.8,241.1 294.8,239.1 294.8,237.1 294.3,236.6 291.3,236.6 290.3,236.1 289.8,235.1 287.8,238.1 289.3,240.6 288.8,243.6 285.3,246.1 280.8,246.6 277.8,249.6 275.8,252.6 275.8,254.6 277.8,257.1 278.8,259.6 277.8,261.1 276.3,261.1 269.8,257.6 268.3,259.1 264.3,260.6 263.8,261.1 263.8,262.6 264.8,264.1 266.8,263.6 269.3,262.1 271.3,262.6 273.3,264.1 274.3,264.1 277.8,261.1 279.3,262.6 279.8,266.6 280.8,268.1 284.3,268.1 287.8,267.1 288.8,266.1 288.8,263.1 290.3,261.6 293.3,260.6 294.8,259.1 296.3,256.1 296.3,251.1 296.8,249.6 298.8,247.6 301.3,249.1 302.3,249.1 303.3,247.6ZM240.3,125.1 238.8,124.1 238.3,124.6 236.3,124.6 236.3,127.1 238.8,127.1 240.3,126.1ZM562.3,116.6 561.8,116.1 559.8,116.6 555.8,120.1 554.3,126.1 552.8,127.1 552.8,129.6 553.3,130.1 552.8,130.6 552.8,135.6 553.3,136.1 552.8,143.1 553.8,146.1 554.3,151.1 551.3,154.6 551.8,157.1 552.8,158.6 552.8,162.6 551.3,165.1 550.8,168.1 548.8,169.6 546.8,169.6 540.8,164.6 538.3,164.6 535.8,166.6 532.3,163.6 530.3,164.1 525.8,167.6 523.3,167.1 522.8,166.1 521.3,165.1 519.8,166.6 519.8,168.6 516.3,171.6 515.8,173.6 513.8,175.1 512.3,179.6 510.3,181.6 505.8,182.1 503.3,184.1 499.3,184.1 498.3,184.6 495.8,187.1 495.3,190.6 494.3,193.1 494.3,196.1 498.8,202.1 498.3,206.1 495.3,209.1 492.8,210.1 491.3,209.6 486.8,209.6 486.3,211.6 483.3,215.6 483.8,217.6 480.3,221.6 479.8,227.1 477.3,230.6 470.8,229.6 468.3,223.6 468.8,220.1 470.8,216.6 473.3,214.1 475.3,213.6 477.8,212.1 477.8,210.6 475.8,209.1 473.3,209.1 469.3,212.6 468.3,212.6 467.8,212.1 466.3,212.1 465.3,211.1 464.3,208.6 459.8,205.1 458.3,205.1 455.8,206.6 449.8,207.6 446.8,205.6 444.3,205.6 441.3,204.1 439.8,202.6 437.3,202.1 434.3,200.1 432.8,200.1 427.8,206.1 424.8,206.6 422.3,208.6 420.8,209.1 418.3,209.1 416.3,211.1 414.3,217.1 412.8,218.6 410.3,219.6 407.3,223.1 406.3,226.1 403.8,228.6 399.8,230.6 399.3,231.6 390.3,240.1 387.8,241.6 380.3,241.1 378.8,243.6 376.8,245.1 374.8,245.1 374.3,245.6 367.8,245.6 362.3,240.6 363.3,239.6 365.3,239.6 365.3,237.6 361.8,238.1 360.8,238.6 361.3,239.1 359.8,240.6 358.8,240.6 357.8,239.6 360.3,237.6 362.3,234.1 362.3,232.1 360.3,229.6 359.3,226.6 354.8,222.6 352.8,222.6 351.3,224.1 350.8,226.1 351.3,226.6 353.8,226.6 356.3,228.6 355.8,231.1 354.3,234.1 352.3,234.1 350.8,231.6 342.3,232.1 338.8,233.6 335.3,233.1 334.8,233.6 334.8,237.6 333.8,238.6 328.3,238.1 326.8,239.1 324.8,239.1 322.8,240.6 321.8,248.6 317.8,253.1 317.8,254.6 321.3,258.1 321.3,259.1 319.3,261.1 317.3,260.6 315.3,258.1 312.8,256.1 312.8,253.6 311.8,252.1 310.3,252.1 307.8,253.6 307.3,255.1 309.8,256.1 310.8,257.1 310.8,258.6 311.8,261.1 313.8,263.1 316.8,263.6 318.8,266.1 318.8,270.6 317.8,271.6 314.3,272.1 313.8,272.6 313.8,273.6 316.3,275.6 316.3,278.1 314.8,279.6 310.8,280.1 307.8,282.1 306.8,282.1 304.3,280.6 298.3,280.6 295.8,278.6 293.3,277.6 286.3,278.1 283.3,279.1 279.3,277.6 276.8,277.6 272.3,280.1 270.3,279.1 266.3,275.6 265.3,273.6 264.8,268.6 263.8,267.6 263.3,268.6 263.3,271.6 262.3,272.6 261.3,272.6 259.3,270.1 256.8,269.6 255.3,268.1 254.8,266.6 258.8,262.1 261.8,259.6 261.8,258.1 260.8,256.6 263.3,253.1 263.3,250.6 262.3,249.6 259.3,249.1 258.3,248.1 258.3,245.6 260.8,242.1 259.8,239.1 259.8,236.1 262.3,233.1 264.8,233.6 266.3,232.1 267.8,229.6 267.3,226.6 268.8,225.1 269.8,225.1 271.3,226.6 271.8,228.6 273.3,230.6 274.8,230.6 275.3,231.1 275.8,230.6 277.3,230.6 279.8,229.1 282.3,231.1 288.3,231.1 290.3,232.6 291.8,230.6 291.8,225.6 292.3,224.6 294.8,223.1 298.8,219.1 301.3,218.1 301.3,217.1 297.8,217.6 296.8,216.6 296.8,211.6 296.3,211.1 296.3,208.1 295.8,207.6 296.3,201.6 293.8,198.6 293.8,193.6 294.8,190.6 294.3,183.6 296.8,180.6 296.8,179.1 297.3,178.6 297.3,173.6 299.8,170.6 299.8,166.1 300.3,164.6 302.3,162.6 305.3,161.6 309.3,157.1 312.3,156.6 313.3,155.1 313.3,153.1 311.3,147.6 311.3,144.6 310.3,143.6 306.3,142.1 301.3,136.1 298.3,135.6 295.3,134.1 289.8,134.1 288.3,135.1 286.3,137.6 285.3,142.6 282.8,145.1 280.8,145.6 279.8,148.1 278.3,149.6 275.8,150.6 273.8,152.6 272.8,155.1 270.8,157.1 270.3,159.6 266.8,162.6 264.8,163.6 263.3,163.6 260.8,162.6 259.8,161.6 258.3,161.6 257.8,162.1 254.3,162.1 253.8,162.6 248.3,163.1 246.3,164.1 236.3,163.1 236.3,389.6 238.8,389.6 239.8,389.1 240.8,387.1 242.8,386.1 247.3,389.1 247.8,388.6 249.8,388.6 251.3,390.1 251.8,391.6 261.3,392.1 262.3,393.1 265.3,394.1 267.3,394.1 269.3,393.1 279.3,392.6 281.3,390.6 282.3,390.6 284.3,392.6 284.3,393.1 282.8,394.1 282.8,395.1 285.3,396.6 286.3,396.6 287.3,397.6 289.8,397.1 290.3,396.1 290.3,393.1 291.3,392.1 292.8,395.1 298.8,396.1 300.8,398.6 302.8,399.6 305.3,402.1 306.8,402.6 309.3,400.6 308.8,395.6 307.8,392.6 305.3,392.6 301.8,394.6 299.3,394.6 295.3,392.1 293.8,391.6 291.8,392.1 291.3,391.6 291.8,387.6 290.8,386.1 289.8,386.1 288.3,384.6 286.3,380.1 282.3,379.6 279.8,377.6 276.8,379.1 275.8,379.1 274.3,377.1 274.3,371.6 273.8,370.6 277.8,367.6 279.3,367.1 282.8,369.1 284.3,369.1 287.3,366.6 290.8,366.6 291.8,367.1 293.8,369.1 294.3,370.6 295.8,371.6 298.8,371.6 299.8,370.6 301.8,370.1 304.8,373.6 305.8,373.6 310.3,376.1 316.3,375.6 318.8,377.6 320.8,377.6 322.3,379.1 322.3,380.1 323.8,382.6 323.8,387.1 324.3,387.6 327.8,387.6 328.3,387.1 328.3,384.6 331.8,379.1 332.8,378.6 335.3,378.6 337.3,380.1 339.8,380.1 343.3,378.1 344.3,379.1 343.3,382.6 343.8,385.1 342.3,387.6 341.8,390.1 343.3,390.1 345.8,387.1 347.3,387.6 348.3,388.6 348.3,390.1 346.3,392.1 347.3,393.6 353.8,394.6 356.3,392.6 360.3,392.6 362.3,394.6 367.8,394.1 368.8,394.6 373.8,400.1 378.8,400.6 383.3,402.1 386.3,404.1 389.8,403.1 394.8,403.1 399.3,399.6 400.8,399.1 404.8,399.1 407.8,397.1 410.8,397.1 415.3,401.1 415.8,402.1 415.8,406.6 417.8,408.6 420.8,409.6 421.3,409.1 424.3,409.6 429.3,413.1 435.8,413.6 438.8,416.6 440.8,417.6 444.3,418.6 446.8,418.6 450.3,420.6 453.3,419.6 456.8,419.6 458.8,420.6 459.8,422.1 462.3,422.1 465.3,419.1 466.8,415.6 468.3,414.6 470.8,414.6 473.8,417.6 474.8,417.6 475.8,416.1 475.8,414.1 474.8,413.6 472.3,413.6 471.8,413.1 471.8,411.6 473.8,410.1 475.8,410.6 476.8,411.6 477.3,413.6 481.8,415.1 484.8,414.6 487.8,411.1 491.3,411.1 491.8,410.6 491.8,402.1 493.3,399.6 493.8,397.6 490.3,396.6 489.3,395.1 489.8,394.1 493.3,391.1 495.3,388.1 499.8,388.1 504.3,386.1 504.8,385.1 504.8,382.1 503.8,379.6 504.8,378.6 507.8,379.6 509.8,383.1 511.8,383.6 512.8,382.6 512.8,381.1 509.8,377.6 511.3,375.6 511.8,373.6 513.3,372.6 515.3,370.1 517.3,369.1 519.8,369.1 525.8,371.6 528.3,371.6 529.3,370.6 526.3,368.6 525.3,367.1 525.3,363.6 526.3,362.1 527.3,361.6 529.8,362.1 530.8,363.6 531.3,367.6 532.8,367.6 535.8,365.1 536.8,362.6 538.8,361.1 543.8,361.6 543.3,352.6 544.3,351.6 548.3,351.6 548.8,352.1 549.3,351.6 550.8,351.6 552.8,350.1 560.8,346.6 561.8,345.6 564.3,345.1 564.3,322.6 561.3,322.6 560.3,321.6 560.3,320.1 561.3,319.1 563.3,320.6 564.3,320.6 564.3,315.6 562.8,315.6 560.3,317.1 556.3,315.6 551.3,315.1 542.8,307.1 540.8,304.1 540.8,302.1 542.3,299.6 542.3,298.6 543.8,297.1 545.8,296.6 547.3,294.6 549.8,292.6 550.8,292.6 556.8,296.1 558.3,296.1 560.3,297.1 561.3,297.1 563.3,295.6 564.3,295.6 564.3,122.1 563.3,122.1 561.8,120.6ZM469.3,407.1 469.3,408.6 468.3,410.1 466.3,411.6 462.8,411.6 461.3,410.1 461.3,408.6 462.3,407.6 464.3,407.6 466.3,405.6 467.8,405.6ZM284.3,393.1 285.3,392.1 287.8,392.1 288.8,393.1 287.8,394.1 285.3,394.1ZM269.3,365.1 270.8,365.1 271.8,366.1 272.3,368.1 273.8,370.6 272.8,371.6 270.3,372.6 269.3,372.6 267.8,370.6 267.8,367.6ZM534.8,355.1 535.3,355.6 535.3,357.1 534.8,357.6 534.8,360.1 533.8,361.1 532.8,359.6 533.3,359.1 533.3,356.1ZM269.8,352.1 270.8,353.1 270.8,354.6 268.3,356.1 267.3,354.6 267.3,353.1 268.8,352.1ZM537.8,341.6 538.8,341.6 539.8,343.1 539.8,345.1 539.3,345.6 538.3,345.6 536.8,344.1 536.8,342.6ZM292.8,304.1 294.8,304.1 297.3,305.6 299.8,308.1 299.8,311.1 302.8,313.1 302.8,314.6 300.8,316.6 299.3,317.1 297.3,320.1 295.3,321.6 293.3,321.6 291.3,320.1 289.8,316.6 288.8,315.6 288.8,313.6 291.3,311.6 291.3,310.6 290.8,310.1 289.3,310.6 287.3,308.6 287.8,307.1 291.3,306.6ZM277.3,299.6 278.3,298.6 281.3,299.1 283.3,301.6 283.8,304.6 285.3,305.1 286.3,306.1 286.3,307.1 285.8,307.6 284.3,307.6 281.8,309.1 279.8,307.6 279.3,306.1 276.8,305.6 275.8,304.6 275.8,302.6ZM378.3,286.1 380.8,284.6 384.8,284.6 385.3,285.1 390.3,284.6 391.3,286.1 388.3,288.1 388.8,295.6 387.8,296.6 384.8,297.6 382.3,297.6 381.8,298.1 380.3,297.6 378.8,296.1 378.3,292.6 376.3,289.6ZM399.3,283.6 400.8,282.1 402.3,281.6 404.8,282.1 407.8,285.6 407.8,286.6 405.8,288.6 403.8,288.6 399.8,286.1ZM258.3,272.1 259.8,274.1 259.3,275.6 257.3,277.1 255.3,277.1 254.8,276.6 255.3,273.6 256.8,272.1ZM276.3,216.1 277.8,217.6 277.8,219.6 273.8,223.1 272.3,221.6 272.3,217.6 273.3,216.6Z"/>
<path fill="#78f573" fill-rule="evenodd" d="M248.3,379.1 246.3,380.1 245.3,382.1 246.8,385.1 248.3,385.1 248.8,384.6 248.8,379.6ZM259.3,376.6 258.8,379.6 260.8,386.1 263.3,386.6 270.3,384.6 270.3,382.6 270.8,382.1 270.8,379.1 270.3,378.6 267.8,378.1 266.3,378.6 266.3,379.1 264.3,380.6 263.8,380.1 263.8,375.6 261.8,374.6ZM283.3,252.6 283.3,254.1 285.8,256.1 288.3,257.1 290.3,256.1 290.3,254.6 287.8,250.6 285.8,250.6ZM298.8,139.1 295.8,138.1 293.8,138.1 291.8,140.1 290.8,140.1 289.3,141.6 287.8,144.6 284.3,147.6 280.8,151.6 278.8,152.1 276.8,154.1 274.8,154.1 272.8,155.1 270.8,157.1 270.3,158.1 270.3,161.6 265.8,165.6 262.8,165.6 260.8,164.6 258.3,164.6 256.8,165.6 252.3,164.6 251.8,165.1 250.3,165.1 247.3,167.1 245.3,167.1 242.8,165.6 240.3,165.6 239.8,166.1 236.3,166.6 236.3,255.6 237.3,256.1 238.8,259.6 239.8,260.6 245.3,260.6 245.8,259.1 244.3,257.1 244.8,254.6 248.8,251.1 251.3,250.6 252.8,248.6 254.3,245.6 254.3,244.6 256.8,240.6 256.8,239.1 255.8,236.6 256.8,234.6 258.3,233.1 259.3,230.1 263.8,226.1 269.3,217.6 269.3,214.1 268.3,212.1 268.8,210.1 270.8,208.1 272.8,208.1 274.3,209.6 273.8,210.6 273.8,213.1 274.3,213.6 276.8,212.1 281.3,215.6 283.3,215.6 284.3,213.6 283.8,205.1 284.8,204.1 287.3,203.6 288.8,202.1 288.8,200.1 290.3,197.6 290.3,194.6 291.8,192.1 291.8,185.6 292.8,184.1 294.3,183.6 296.3,181.6 297.3,178.6 297.3,173.6 299.8,170.6 300.3,161.6 301.3,160.6 304.3,159.6 306.3,157.6 307.8,155.1 310.3,154.1 310.3,148.6 309.3,147.1 309.3,146.1 308.3,145.1 302.3,142.6 300.8,140.6ZM564.3,126.1 562.8,126.1 560.8,125.1 557.8,129.6 555.3,132.1 555.3,133.6 556.8,136.6 556.3,147.1 556.8,147.6 556.8,149.1 559.8,152.6 560.3,154.1 558.8,155.6 556.3,155.6 554.8,156.6 555.3,162.6 551.3,167.6 551.3,171.1 550.3,172.1 547.8,172.6 546.3,173.6 543.8,173.6 540.3,169.6 539.3,169.1 536.8,169.1 536.3,169.6 535.8,169.1 533.8,169.1 531.8,167.6 529.3,167.6 526.8,169.1 526.3,168.6 519.8,168.6 518.8,169.1 515.8,172.6 515.8,177.6 513.3,180.6 511.8,184.6 510.3,185.6 508.3,185.6 504.8,187.6 503.3,187.6 500.8,189.1 500.8,190.6 496.8,194.1 496.8,196.6 502.3,201.6 502.3,203.6 500.3,207.6 495.8,211.1 489.3,213.1 483.3,218.1 480.3,221.6 479.8,227.1 478.3,230.1 475.8,232.1 467.3,232.1 465.8,230.1 466.3,228.6 465.8,225.6 462.8,222.1 463.3,217.1 459.8,214.1 459.8,213.1 458.8,211.6 453.8,209.6 448.8,209.6 443.3,206.6 436.8,206.1 433.8,204.6 431.8,206.1 431.3,208.1 429.8,209.6 427.3,209.6 426.3,210.1 425.8,212.1 422.8,215.1 419.8,215.6 418.3,218.1 415.8,220.6 413.8,221.1 411.3,222.6 408.8,225.1 407.8,227.1 404.8,230.6 400.8,232.1 389.8,242.6 386.3,243.6 381.3,244.1 379.3,246.6 375.8,248.1 373.3,250.1 370.3,250.1 367.8,248.6 364.8,248.1 362.8,247.1 362.8,248.6 362.3,249.1 360.8,249.1 360.3,248.6 360.3,246.1 359.3,245.1 355.3,244.1 352.8,241.6 352.8,239.1 351.3,238.6 350.3,240.6 349.3,241.6 348.3,241.6 346.8,240.1 346.3,238.1 344.8,235.6 342.8,235.6 339.8,239.6 336.8,240.6 334.3,242.6 331.8,242.6 331.3,242.1 328.3,242.6 327.8,243.1 327.8,247.6 325.8,251.6 326.3,253.1 326.3,257.1 325.8,258.6 323.8,260.6 323.3,263.1 321.3,266.1 321.3,271.6 319.3,274.1 318.8,275.6 318.8,278.1 319.3,279.1 322.3,281.6 322.3,282.6 317.8,284.6 316.8,285.6 316.8,290.6 319.3,294.1 323.3,294.1 324.3,295.1 324.8,296.6 323.8,298.1 323.3,300.1 321.3,301.6 320.3,300.6 320.3,298.1 319.3,295.1 316.3,295.6 313.8,297.1 308.8,296.6 307.3,298.1 307.3,299.1 308.8,302.1 308.8,303.6 307.3,304.6 306.3,306.1 306.8,307.6 306.3,310.6 307.8,312.1 308.8,318.1 305.8,320.1 303.3,323.1 302.3,323.1 298.3,325.1 296.8,325.1 295.3,327.1 292.3,329.6 291.3,329.6 289.8,328.1 288.3,324.6 285.8,321.6 280.8,320.6 278.8,319.1 278.3,318.1 278.3,313.1 276.8,311.1 275.8,311.1 274.3,312.6 270.8,312.1 268.3,310.1 267.3,308.6 267.3,307.6 266.3,306.6 264.3,306.6 262.8,308.6 262.8,310.1 261.8,310.6 260.8,309.6 261.3,308.1 260.8,306.6 261.3,305.6 263.3,304.1 263.3,302.1 262.3,300.6 260.8,300.6 258.8,303.1 257.3,303.1 253.3,305.6 251.3,305.6 249.8,304.1 249.8,303.1 254.8,298.6 253.3,294.1 254.8,292.1 256.8,291.1 259.8,291.6 262.3,290.1 264.8,290.1 266.8,289.1 268.3,289.1 271.8,292.1 273.8,292.1 277.3,290.1 278.8,291.6 280.3,295.1 285.8,294.6 287.3,295.6 288.8,295.6 291.3,297.1 292.8,297.1 296.3,299.1 297.3,299.1 301.8,295.6 301.8,294.6 304.8,292.1 307.3,292.6 309.3,294.6 309.8,294.1 308.3,291.6 308.3,285.1 304.3,283.1 298.8,283.1 293.3,281.1 286.8,281.1 282.3,282.6 278.8,282.6 276.8,281.6 273.3,283.6 270.3,283.6 266.3,279.6 265.3,279.6 265.8,284.6 264.3,286.1 262.8,286.1 259.8,284.1 259.8,282.1 261.8,279.6 261.3,279.1 259.3,279.1 255.8,281.6 253.8,284.6 250.8,285.1 248.8,282.1 249.3,280.6 251.3,278.6 251.3,276.1 250.8,275.6 248.3,275.6 246.3,276.6 244.8,278.6 244.8,280.6 243.3,281.6 239.3,281.6 238.8,281.1 238.8,276.1 238.3,275.6 236.3,275.6 236.3,281.6 238.3,281.6 238.8,282.1 238.3,283.6 236.3,284.6 236.3,303.1 237.8,303.1 238.8,304.1 240.8,304.6 241.8,303.6 242.8,300.6 245.3,300.6 249.8,303.6 247.8,305.6 246.8,307.6 246.8,310.6 246.3,311.1 243.3,310.6 240.3,306.6 239.3,306.6 237.8,307.6 236.3,307.6 236.3,312.6 239.8,312.6 241.3,314.6 241.3,316.1 240.3,317.6 239.3,317.6 237.8,318.6 236.3,318.6 236.3,333.1 238.8,332.6 241.3,330.6 242.8,328.6 245.3,327.1 246.3,327.1 246.8,327.6 251.3,328.1 254.8,330.6 257.8,334.1 253.3,339.6 253.8,344.6 252.3,347.6 250.8,349.1 248.3,349.1 246.8,347.6 246.8,346.6 244.8,344.6 243.8,341.6 242.3,339.6 240.8,340.1 236.3,339.6 236.3,381.6 237.3,381.6 239.3,380.1 239.8,379.1 239.8,375.1 240.3,374.1 242.3,372.6 246.8,373.6 248.3,376.1 250.3,377.6 251.8,377.1 253.3,375.6 253.3,373.6 251.3,371.1 250.8,368.1 247.3,365.1 247.3,364.1 248.8,362.6 249.8,362.6 252.8,360.6 252.8,357.6 253.8,356.6 256.3,357.1 260.3,361.6 261.8,362.1 262.8,361.1 262.8,358.1 261.3,355.1 261.3,352.6 260.8,352.1 262.3,349.6 263.3,349.6 265.8,348.1 265.8,347.1 264.8,345.6 264.8,342.6 265.8,341.6 268.3,342.1 272.8,347.6 274.8,348.6 276.8,348.6 281.3,347.1 283.3,344.6 280.8,341.6 281.3,339.6 282.8,339.1 284.3,340.6 284.8,344.6 286.3,346.6 286.8,349.6 288.8,351.6 290.8,355.1 289.8,359.1 288.8,360.1 286.3,359.1 284.3,359.1 282.3,361.1 283.3,364.1 285.8,364.6 286.3,364.1 287.8,364.1 290.3,362.6 291.3,363.6 293.3,364.1 295.8,367.1 298.8,367.6 303.8,365.1 305.3,363.1 307.3,362.6 311.3,367.1 313.8,367.1 315.3,368.1 316.8,368.1 318.3,366.6 319.3,366.6 321.3,369.1 323.3,369.1 324.3,370.1 323.8,372.6 325.3,373.6 326.8,373.6 329.8,372.1 334.8,366.6 335.8,366.6 336.8,367.6 337.3,370.6 338.8,372.6 340.8,372.6 343.8,374.6 346.3,374.6 347.8,373.6 349.3,373.6 353.8,378.1 353.8,379.6 349.8,383.6 351.3,385.6 352.8,385.6 354.3,386.6 355.3,386.6 356.3,387.6 361.8,390.1 363.8,391.6 366.3,391.6 368.3,390.6 370.8,392.6 372.8,396.1 374.8,397.6 380.8,397.6 382.8,398.6 384.8,398.1 386.8,396.1 387.8,393.6 390.3,390.6 395.3,395.1 396.8,397.6 402.8,397.1 405.8,395.1 409.8,394.6 410.3,394.1 413.3,394.1 414.8,395.1 418.8,395.6 420.8,398.1 423.8,400.1 428.3,401.6 429.3,403.1 428.8,404.1 428.8,406.6 429.8,407.6 431.8,407.6 433.8,409.6 434.8,409.6 436.3,410.6 439.8,414.1 442.3,415.1 446.3,414.6 448.8,416.1 453.8,416.1 456.8,413.6 456.8,412.1 455.3,412.6 453.3,410.6 453.8,402.1 454.8,401.1 456.8,401.6 457.8,402.6 457.3,405.1 459.3,405.1 460.3,404.6 460.3,403.6 457.3,402.1 458.3,399.1 459.8,397.6 463.3,397.6 463.8,398.1 467.3,398.1 469.8,400.1 470.3,399.6 471.8,399.6 473.8,401.6 477.8,402.6 480.3,406.6 479.8,408.1 480.8,411.1 481.8,411.6 483.3,411.1 484.8,409.6 485.3,408.1 486.8,406.6 488.8,406.1 489.3,405.1 488.8,400.6 488.3,400.6 485.3,397.1 485.3,394.1 484.8,393.6 485.3,391.1 486.3,390.1 487.8,390.1 488.3,390.6 490.8,390.1 491.8,388.6 491.8,387.1 493.3,385.1 494.3,384.6 497.3,384.6 500.8,383.1 500.8,378.6 503.3,376.1 505.3,375.1 512.3,367.1 516.8,366.1 517.8,364.6 517.8,362.1 518.8,361.1 521.3,360.6 525.8,357.6 525.8,356.1 525.3,355.6 525.8,353.1 526.8,352.1 528.3,352.1 528.8,351.6 528.8,348.1 535.3,340.1 538.8,338.1 541.3,339.1 542.8,341.1 543.3,344.1 547.8,347.6 548.8,347.6 549.3,346.6 551.8,344.6 553.3,344.1 554.3,344.6 556.8,344.6 557.3,343.6 559.3,342.1 561.8,341.6 562.8,340.6 564.3,341.1 564.3,340.6 563.3,340.6 561.8,339.1 562.3,336.6 563.3,335.6 564.3,335.6 564.3,325.6 557.3,325.1 556.3,323.6 556.3,322.1 556.8,321.6 556.3,318.6 553.8,317.1 548.8,315.6 545.8,312.6 543.8,311.6 541.3,308.6 538.8,307.6 533.8,309.6 532.3,309.6 531.8,309.1 533.3,306.6 534.8,305.6 536.3,303.6 536.3,302.6 535.3,301.1 535.3,298.6 535.8,297.6 538.8,296.1 539.8,293.6 541.8,291.6 543.3,291.6 543.8,291.1 544.3,291.6 546.8,291.6 549.3,290.6 551.8,290.6 553.8,291.6 564.3,292.1ZM487.8,383.6 489.3,383.6 490.8,385.1 490.8,386.1 488.8,388.1 487.3,388.1 486.3,387.1 486.3,385.1ZM344.3,368.1 345.8,366.6 347.3,366.6 348.3,367.6 348.3,369.1 348.8,369.6 347.8,370.6 346.8,370.6 345.8,369.6 344.8,369.6ZM252.3,351.6 253.3,352.6 253.3,354.6 252.8,356.1 250.8,358.1 248.8,358.1 245.8,355.6 246.8,354.1 251.3,351.6ZM289.3,338.6 289.8,338.1 290.8,339.1 291.8,339.1 293.3,341.1 292.3,342.1 290.8,341.6ZM281.8,332.1 283.8,330.6 285.3,330.6 286.8,332.6 287.3,335.6 286.8,336.1 282.8,336.1 281.3,334.6ZM241.3,317.6 243.3,316.1 246.3,316.1 248.3,318.6 250.8,320.1 247.3,321.1 246.3,323.1 243.8,325.1 242.3,324.1 241.3,322.1ZM311.8,305.1 312.3,305.1 314.3,307.6 314.3,311.6 313.3,313.1 310.8,313.6 308.3,311.6 308.3,310.1 309.8,307.1ZM406.3,273.6 408.8,276.6 410.8,277.6 411.3,280.6 414.3,284.1 414.3,285.6 405.3,291.6 401.3,291.1 401.3,295.1 400.3,297.1 397.8,299.1 394.8,299.1 392.8,300.6 394.3,302.1 394.3,304.1 391.8,307.1 389.8,307.6 387.3,304.1 385.3,303.6 383.8,301.6 379.3,300.1 376.8,297.6 375.8,294.1 373.3,291.1 373.8,287.6 376.3,284.1 380.8,282.1 387.8,281.1 389.3,279.6 391.3,279.6 393.3,280.6 396.3,280.1 401.8,277.1 402.3,275.6 404.3,273.6Z"/>
<path fill="#50f050" fill-rule="evenodd" d="M240.3,360.6 236.3,360.1 236.3,366.6 237.3,366.6 241.3,363.1 241.3,361.6ZM296.3,361.6 297.8,363.1 298.8,361.6 297.3,359.6 297.3,358.1 296.8,357.6 296.8,355.6 297.8,354.6 300.3,356.1 300.3,360.6 302.3,360.6 303.8,359.6 306.3,359.6 307.3,359.1 308.8,356.1 310.8,354.1 311.3,352.6 313.8,350.6 314.8,348.6 312.3,347.6 311.3,348.6 311.3,350.1 309.8,351.1 306.3,351.1 303.8,349.1 298.8,349.6 297.8,348.6 297.3,346.6 296.8,346.1 295.3,346.1 294.8,349.1 296.8,352.6 296.8,354.6 294.8,355.6 294.8,357.6 296.3,360.6ZM268.3,318.6 264.8,318.6 262.8,319.6 260.3,323.1 257.8,324.1 256.3,326.1 256.8,328.6 260.3,331.6 260.3,332.6 261.8,334.1 263.8,335.1 265.3,334.6 268.3,332.1 269.3,330.6 269.3,328.1 270.3,327.1 272.3,326.6 273.8,325.1 273.3,323.1 271.3,322.1 269.3,319.1ZM236.3,297.1 236.3,300.6 239.3,300.1 239.3,298.6 238.3,297.6ZM283.8,285.6 283.8,287.6 285.8,289.6 288.8,290.6 289.3,291.6 291.8,293.6 293.8,293.6 295.3,292.6 295.8,289.6 297.8,287.1 297.3,285.6 295.3,284.6 285.8,284.1ZM564.3,157.1 561.8,157.1 560.8,157.6 558.3,160.6 557.8,162.6 556.8,163.6 554.3,164.1 551.8,166.6 551.3,167.6 551.3,173.1 551.8,174.1 548.8,175.6 545.8,173.6 540.8,173.6 539.8,174.1 537.8,171.6 533.3,171.6 529.8,169.6 528.3,169.6 526.3,168.6 519.8,168.6 518.8,169.1 515.8,172.6 515.8,178.6 516.8,180.1 515.3,181.6 515.3,184.6 513.3,188.6 513.3,190.6 514.3,192.6 513.3,193.6 507.3,194.1 506.8,194.6 505.3,194.6 504.3,195.6 504.3,197.6 505.3,199.1 505.3,204.6 503.8,207.1 500.8,210.1 496.3,212.6 495.3,212.6 493.8,213.6 488.8,213.6 483.3,218.1 480.3,221.6 479.8,227.1 478.3,230.1 473.8,234.1 469.3,234.1 468.3,235.1 465.8,236.1 463.8,234.1 462.8,228.1 460.3,225.6 459.8,221.6 457.3,216.1 455.3,214.1 451.3,212.1 449.8,212.1 448.3,211.1 447.3,211.1 443.3,208.6 440.8,208.6 438.3,210.6 433.3,213.1 432.3,213.1 430.8,214.1 428.3,214.1 427.3,214.6 427.3,215.1 423.3,218.6 420.8,219.6 419.3,222.1 417.3,224.1 416.3,224.1 413.3,226.1 410.3,227.1 405.3,232.6 400.8,234.1 398.3,237.1 392.3,242.6 390.3,243.1 387.8,244.6 385.8,244.6 382.3,246.1 378.3,249.1 374.8,253.1 370.3,253.6 366.8,251.1 360.3,252.1 358.3,251.1 356.8,248.6 354.3,246.6 350.8,246.1 348.3,247.6 345.3,247.6 338.8,243.6 336.8,244.1 334.8,246.1 333.8,249.1 332.3,250.6 330.8,251.1 329.8,252.6 329.3,259.6 326.3,263.6 326.3,266.6 324.3,268.6 323.8,272.1 322.3,274.6 322.3,276.1 325.3,277.6 326.3,279.6 326.3,281.1 329.8,284.1 330.3,285.1 330.3,287.1 329.8,287.6 330.3,289.1 332.3,290.1 333.8,292.1 333.8,293.6 332.8,295.1 331.8,295.6 329.3,295.6 327.8,297.6 327.8,299.1 329.3,300.1 330.8,302.1 330.8,307.1 330.3,308.6 327.8,311.6 325.8,312.6 323.8,314.6 322.3,315.1 320.3,317.1 317.8,317.6 316.3,318.6 315.8,319.6 316.3,322.6 315.8,324.1 313.8,326.6 311.8,327.1 308.8,324.1 307.3,324.1 302.8,325.6 299.8,328.1 299.3,329.6 297.8,330.6 296.3,332.6 293.8,333.6 293.8,335.6 296.3,338.6 297.8,342.1 298.8,343.1 300.3,343.1 301.8,342.1 302.3,340.6 303.8,339.1 305.3,339.1 308.8,341.1 313.8,341.1 314.3,340.6 317.3,341.1 318.8,343.1 319.3,347.1 320.3,349.1 320.3,352.1 318.8,353.6 318.8,356.6 319.3,357.6 321.8,359.1 324.3,361.6 328.3,363.1 330.3,365.6 336.3,362.6 338.8,359.1 341.3,359.1 341.8,359.6 345.3,359.6 345.8,359.1 347.3,359.6 349.8,363.1 350.3,366.1 353.8,374.1 356.8,377.1 357.8,380.1 356.8,383.1 360.8,386.1 362.3,386.1 364.8,387.6 369.3,388.1 371.3,389.1 372.8,390.6 373.3,392.6 374.8,394.1 376.8,394.1 378.3,393.1 380.3,393.1 380.8,392.6 385.3,393.1 386.8,390.6 386.8,385.1 387.3,384.1 389.3,382.6 390.8,382.6 391.8,383.1 395.3,387.1 397.3,387.1 398.8,388.1 399.3,389.1 398.8,394.6 401.3,394.6 402.3,394.1 403.8,392.1 408.3,389.1 411.3,389.1 413.3,390.1 414.8,390.1 416.3,391.1 420.8,390.6 424.3,392.6 424.8,392.1 428.8,392.1 431.3,395.6 432.8,402.1 433.8,404.1 436.8,407.1 440.8,408.1 442.8,411.1 444.8,411.6 445.3,411.1 449.3,411.1 449.8,410.6 450.3,404.1 448.8,402.1 448.8,400.1 447.3,396.1 447.3,393.6 449.8,390.6 453.3,390.6 455.8,387.6 457.3,387.6 459.8,389.1 461.3,388.6 463.8,389.1 469.8,394.6 473.3,394.6 474.3,393.6 478.8,393.6 479.8,393.1 481.3,391.1 481.8,387.1 485.3,382.1 488.8,380.6 490.8,379.1 492.3,379.1 494.3,380.1 497.3,376.6 501.8,375.1 504.3,371.6 507.8,368.6 508.3,367.1 510.8,364.6 513.3,364.1 514.3,363.1 513.3,360.1 514.8,358.1 515.8,353.6 518.8,351.1 522.8,351.6 526.8,347.1 530.3,340.6 533.3,337.6 538.3,335.6 542.3,337.1 545.3,340.1 546.3,343.1 551.3,342.6 554.8,340.6 556.3,339.1 556.3,337.1 554.8,335.1 555.3,330.1 553.3,326.6 553.3,325.1 553.8,324.6 553.8,320.6 553.3,319.1 549.8,317.1 543.3,315.1 539.3,311.6 536.8,311.6 532.8,313.6 530.3,313.6 528.8,312.1 528.8,309.1 529.8,307.1 529.8,303.6 528.3,299.6 528.3,296.6 533.8,292.6 535.8,293.1 538.3,292.1 538.8,291.1 541.3,289.1 545.3,289.1 545.8,288.6 548.8,288.6 549.3,288.1 551.3,288.1 553.8,289.1 557.3,289.1 557.8,288.6 564.3,289.1ZM308.8,331.1 310.3,331.1 311.8,333.1 310.3,335.6 309.3,335.6 307.8,334.1 307.8,332.1ZM502.8,302.1 504.3,302.1 506.8,305.6 506.3,309.6 505.8,310.6 504.3,311.6 502.8,311.6 500.3,308.6 501.3,303.6ZM418.3,273.1 419.3,274.1 419.3,277.6 418.8,279.1 417.3,280.6 417.8,287.1 415.8,289.1 409.8,292.1 406.3,296.1 403.3,297.1 397.8,302.6 394.8,307.6 392.8,307.6 389.3,310.1 387.3,309.6 384.3,307.1 380.8,303.1 377.8,302.1 375.8,302.1 374.3,300.1 373.8,296.6 372.8,295.6 370.8,295.1 368.8,292.6 368.8,291.6 370.8,289.6 370.8,287.1 368.3,283.6 369.3,282.6 378.3,281.1 381.3,279.6 382.8,279.6 384.3,278.6 385.3,278.6 387.8,277.1 396.3,277.1 401.3,272.6 402.3,272.6 403.8,271.6 409.3,271.6 411.8,273.1 413.3,273.1 413.8,273.6ZM290.8,149.1 287.8,148.6 284.3,150.6 282.3,152.6 280.3,152.6 272.8,155.1 270.3,158.1 270.3,163.6 268.8,165.6 265.8,168.1 254.3,168.6 252.3,167.6 250.8,167.6 247.8,169.1 244.3,169.1 241.8,168.1 239.8,169.6 236.3,170.1 236.3,189.1 238.3,190.6 238.3,193.1 236.3,194.6 236.3,237.6 241.3,239.1 243.3,240.6 247.8,239.1 248.8,238.1 248.8,236.6 246.3,233.6 245.8,232.1 246.8,231.1 248.8,231.1 249.3,231.6 253.3,231.1 258.8,226.6 261.3,225.6 263.3,223.1 264.8,219.1 267.3,217.1 266.8,209.1 269.3,206.1 271.8,204.6 271.8,201.1 272.3,200.1 274.3,198.1 276.8,198.1 278.3,196.1 279.8,196.1 281.8,198.1 284.3,196.1 286.3,196.6 286.3,195.1 284.3,193.1 283.8,191.6 285.3,190.1 286.8,190.1 287.3,190.6 288.8,190.1 288.8,186.1 289.8,184.1 293.3,184.1 296.3,181.6 297.3,178.6 297.3,173.6 299.8,170.6 300.3,159.1 296.8,154.1ZM300.3,144.6 299.3,145.1 299.3,147.1 298.8,147.6 298.8,152.6 301.3,155.1 301.8,156.6 303.3,157.1 304.8,154.6 308.8,151.1 308.8,149.6 308.3,148.6 306.3,147.1 305.3,147.1 303.3,145.6ZM561.3,129.6 560.3,130.1 558.8,132.1 558.8,134.1 559.3,134.6 558.8,139.1 562.3,143.6 560.8,145.6 560.3,147.6 561.3,149.1 563.3,149.1 564.3,148.6 564.3,130.1Z"/>
<path fill="#37d23c" fill-rule="evenodd" d="M368.3,296.6 367.8,296.1 366.3,296.1 364.8,297.1 363.8,298.6 364.8,299.6 366.8,299.6 368.3,298.6ZM363.3,286.6 362.8,290.1 363.3,290.6 364.8,290.6 366.3,289.1 366.3,287.1 365.8,286.6ZM564.3,260.6 561.8,262.6 561.3,263.6 561.8,265.1 564.3,265.6ZM564.3,161.6 561.8,162.6 560.3,164.1 559.8,163.6 555.3,163.6 551.8,166.6 551.3,167.6 551.3,173.1 553.3,175.6 552.3,176.6 551.3,176.6 549.8,177.6 549.3,176.6 545.8,173.6 540.8,173.6 536.8,177.1 534.3,175.1 533.8,173.1 529.8,169.6 528.3,169.6 526.3,168.6 519.8,168.6 518.8,169.1 515.8,172.6 515.8,178.6 518.8,183.1 518.8,187.1 516.8,189.6 517.3,190.1 517.3,196.1 515.8,197.1 513.3,197.1 510.8,198.6 509.8,200.1 505.8,203.6 505.3,204.6 505.3,208.6 501.8,211.6 497.3,213.6 488.8,213.6 487.8,214.1 480.8,220.6 479.8,224.1 479.8,227.1 478.3,230.1 470.3,237.1 462.8,237.1 461.8,235.6 459.3,233.6 457.3,228.1 457.3,224.6 456.3,222.1 456.3,220.1 455.3,217.6 453.8,216.1 446.8,213.1 441.3,212.6 438.3,214.6 434.3,216.6 433.3,216.6 429.3,219.1 426.8,219.6 422.3,222.1 419.8,226.6 419.8,227.6 418.3,229.1 412.3,229.1 410.8,229.6 405.3,235.1 401.8,235.6 394.3,242.6 390.3,243.1 388.3,244.1 386.3,246.1 383.3,247.1 379.8,249.6 378.3,251.6 378.3,252.6 375.8,255.6 373.3,256.1 370.8,258.6 367.8,258.1 366.3,255.1 364.8,254.1 357.8,254.1 356.3,253.1 352.3,253.1 348.8,251.1 346.3,251.6 343.8,254.1 342.3,254.1 339.8,252.1 337.8,252.1 336.8,253.1 335.8,256.1 331.8,259.1 330.8,262.1 328.8,264.6 328.8,269.1 327.3,271.6 327.8,276.1 329.3,279.6 332.3,281.6 336.8,281.6 338.3,280.1 339.3,280.1 340.3,281.1 341.8,281.1 344.3,278.6 346.3,278.1 347.3,279.1 347.3,281.6 345.8,283.1 342.8,283.1 342.8,284.6 343.3,285.1 345.3,285.1 347.3,287.1 347.8,288.6 346.3,290.6 342.3,290.6 341.8,291.1 342.8,293.1 342.8,294.6 341.8,296.6 339.8,298.6 337.3,299.6 335.3,301.6 335.3,304.1 337.8,306.6 337.8,308.1 338.3,308.6 337.3,311.1 333.8,314.1 332.3,314.1 328.3,316.6 326.8,316.6 325.3,318.6 324.8,321.1 323.3,322.6 320.3,323.1 318.8,327.1 319.3,338.1 321.8,345.1 323.3,353.1 325.3,356.1 327.8,358.1 335.8,357.6 339.8,355.6 341.8,355.6 343.3,356.6 348.3,357.6 351.3,360.6 354.8,367.1 354.8,369.1 355.8,371.6 359.3,375.6 359.8,377.6 361.3,380.1 368.3,385.1 370.8,385.1 374.3,386.6 375.8,386.6 377.8,385.1 379.8,385.1 382.8,383.1 385.3,380.6 386.3,378.1 385.8,376.1 387.8,373.6 389.3,373.6 390.8,374.6 394.8,374.6 397.8,372.1 400.8,372.6 403.3,376.6 402.8,382.6 403.8,384.6 405.3,385.6 408.8,385.6 410.3,385.1 412.3,383.1 414.3,383.1 414.8,383.6 417.3,383.1 419.8,380.1 421.8,380.1 422.3,380.6 428.8,380.6 430.3,380.1 431.3,379.1 432.3,376.1 431.3,373.1 432.8,371.6 435.3,371.6 437.3,373.1 437.3,374.1 434.8,378.1 432.3,384.1 430.8,385.1 427.8,385.6 426.8,386.6 426.8,387.6 428.8,389.1 431.3,389.6 432.8,391.1 435.3,395.6 436.8,396.1 443.3,396.1 443.3,392.1 445.3,387.1 445.8,386.6 446.3,387.1 448.3,387.1 450.3,385.6 448.3,383.1 450.3,380.6 451.3,380.6 458.3,384.6 460.3,384.6 463.3,383.1 464.3,383.1 465.3,384.1 466.8,388.1 468.8,389.6 471.3,390.1 472.3,389.6 472.8,388.6 472.8,385.6 475.3,383.6 477.8,383.6 478.8,384.6 480.8,384.1 482.8,381.6 485.3,379.6 486.3,377.6 488.8,375.6 493.3,375.6 500.3,373.6 502.3,370.6 502.3,369.1 504.3,365.6 504.8,363.6 505.8,362.6 509.8,362.6 511.8,361.6 514.3,359.1 515.3,356.6 515.3,350.6 520.8,346.6 525.3,345.1 527.3,342.1 527.3,341.1 529.3,337.6 529.8,335.6 532.3,333.1 534.3,332.1 535.8,332.1 536.8,331.1 536.8,326.1 537.8,325.1 540.8,326.1 543.8,328.6 544.3,330.1 547.3,333.6 546.3,335.6 548.3,340.1 551.3,340.6 552.8,338.6 552.8,337.6 551.8,336.1 552.8,330.6 550.8,327.6 550.8,325.6 552.3,322.6 551.3,319.6 549.8,318.6 545.3,318.6 542.3,317.6 538.3,314.6 535.3,315.1 533.3,316.1 530.8,316.1 527.3,313.1 526.8,311.6 527.3,310.6 527.3,305.6 525.8,303.6 525.3,299.6 522.8,296.6 522.8,293.6 523.8,292.1 523.8,290.1 522.8,288.1 524.3,285.1 528.3,282.1 531.3,283.6 532.8,283.1 537.3,283.6 540.8,286.6 543.3,286.6 545.8,285.6 547.8,285.6 550.8,284.1 553.3,284.1 555.3,285.1 557.8,285.1 561.3,282.6 562.8,283.6 562.8,285.6 564.3,286.1 564.3,274.6 563.3,274.6 560.3,272.6 558.8,275.1 556.8,277.1 555.3,277.6 552.3,276.1 550.8,273.1 551.3,271.1 553.3,269.1 554.8,268.6 555.8,267.1 555.8,266.1 554.8,264.6 554.8,263.1 555.8,261.1 557.8,259.1 560.8,259.1 561.3,259.6 562.3,259.1 562.3,257.6 561.8,257.1 557.3,258.1 555.3,256.6 555.3,255.6 557.3,254.6 558.8,254.6 558.8,253.6 559.8,252.6 564.3,252.6ZM444.8,381.6 446.3,383.1 446.3,385.1 445.3,386.6 443.8,384.6 443.8,382.6ZM377.8,347.1 379.8,348.6 379.8,349.6 378.8,350.6 377.3,350.6 376.3,349.1ZM371.8,338.6 373.8,340.1 373.8,342.6 372.8,343.6 370.8,343.6 369.3,342.1 369.3,341.1 370.3,339.6ZM442.3,330.6 442.8,331.1 442.8,334.1 441.8,335.1 440.8,335.1 441.3,335.6 446.3,336.1 448.8,339.1 444.8,343.6 443.3,347.1 441.8,348.1 440.3,348.1 431.8,340.1 431.3,337.1 431.8,335.6 434.8,332.6 440.3,332.6 440.3,332.1ZM500.3,298.1 503.3,297.6 505.8,299.1 507.8,299.1 508.3,298.6 509.8,299.1 511.3,300.6 513.3,305.6 512.8,307.1 509.8,311.1 507.3,312.1 505.3,314.1 503.3,314.1 502.8,313.6 502.8,312.1 501.8,310.1 498.3,307.1 496.8,304.6 497.3,301.6ZM444.3,293.1 445.3,293.1 446.8,294.6 445.8,297.6 444.8,297.6 443.8,296.1 443.8,293.6ZM429.8,283.1 430.8,283.1 431.8,284.1 431.8,286.1 430.3,287.6 429.3,287.6 428.3,286.6 428.3,284.6ZM435.8,280.6 436.3,280.6 438.3,283.1 438.3,284.1 437.3,285.1 434.8,285.1 433.3,284.1 433.3,283.1ZM548.3,276.6 546.3,278.1 543.3,281.6 539.8,281.1 538.3,279.1 538.3,277.6 538.8,277.1 541.8,277.1 544.8,274.1 546.3,274.1ZM431.8,275.1 431.8,277.6 430.3,279.1 427.8,280.1 424.8,280.1 422.8,281.1 422.3,282.1 422.8,286.1 421.8,287.6 421.8,291.1 419.8,293.6 419.8,296.1 418.3,297.6 416.8,298.1 411.3,297.6 407.8,299.6 403.8,299.6 401.8,301.6 401.3,303.6 397.3,307.6 392.8,307.6 390.8,308.6 387.3,311.6 386.3,311.6 385.3,310.6 381.8,310.6 380.3,309.1 379.8,307.1 377.8,305.6 374.3,305.6 370.8,304.1 369.8,303.1 366.8,302.1 362.8,302.6 362.3,303.1 356.8,303.1 356.3,302.6 353.8,302.6 353.3,303.1 350.8,297.1 348.3,294.6 348.3,293.6 349.3,292.6 356.3,290.1 357.8,290.6 357.3,291.6 357.8,292.6 358.8,293.1 359.3,291.6 357.3,290.1 355.8,285.6 356.8,284.6 361.3,285.1 362.3,282.6 363.8,281.1 364.8,281.1 367.8,279.6 372.8,280.1 373.3,279.6 376.8,279.1 384.8,275.1 387.3,275.1 389.8,277.1 396.3,277.1 397.3,276.6 400.8,272.6 400.8,268.1 401.3,267.6 404.3,269.6 409.3,268.6 409.8,268.1 411.8,268.1 414.8,270.1 416.3,269.6 425.8,270.1 428.3,271.1ZM296.8,154.6 294.8,153.6 292.8,153.6 289.3,151.1 287.3,151.1 284.8,152.6 280.3,152.6 276.8,154.1 274.8,154.1 272.8,155.1 270.3,158.1 270.3,166.1 268.3,168.6 264.3,171.1 249.3,171.1 248.8,171.6 242.8,171.6 239.3,173.1 236.3,173.1 236.3,186.1 237.8,186.6 241.3,190.6 241.3,197.1 242.8,200.6 242.8,205.6 243.3,206.1 243.3,208.1 239.8,210.6 237.3,209.1 236.3,209.1 236.3,214.1 237.8,214.6 237.3,215.6 236.3,215.6 236.3,223.1 237.3,223.1 238.8,225.1 238.8,229.1 239.3,230.1 240.3,230.1 241.3,225.1 242.8,223.6 243.3,224.1 247.8,223.6 250.3,226.1 252.3,226.1 253.8,224.6 257.8,224.6 259.3,223.1 260.8,216.6 263.8,213.1 264.8,210.6 264.8,208.6 265.8,206.6 265.8,204.1 263.3,201.6 263.3,200.6 265.3,198.6 266.8,196.1 266.8,194.1 267.8,191.6 267.8,189.1 268.8,187.6 269.8,187.1 273.8,187.6 275.3,186.6 280.8,186.6 282.8,185.6 287.3,185.6 289.3,184.1 293.3,184.1 296.3,181.6 297.3,178.6 297.3,173.6 299.8,170.6 299.8,166.1 300.3,165.6 300.3,159.1 299.3,157.1Z"/>
<path fill="#1eb41e" fill-rule="evenodd" d="M383.8,372.1 381.8,372.1 379.3,373.6 378.3,377.1 378.3,378.6 379.3,379.6 381.8,379.1 382.8,377.1 382.8,375.6 383.8,374.1ZM457.3,329.6 456.8,329.1 452.8,329.6 451.3,332.6 457.3,333.1 457.8,332.6ZM330.8,319.1 329.8,322.6 329.3,323.1 327.8,323.1 325.8,324.6 323.8,329.1 323.8,331.1 327.3,335.1 327.3,336.6 326.8,337.1 323.3,337.1 322.3,337.6 321.8,338.6 323.3,341.1 324.3,347.1 325.8,348.6 328.3,348.6 329.3,349.6 329.3,351.1 328.3,353.1 329.3,354.1 331.8,354.6 335.3,351.6 334.8,347.1 332.8,344.1 332.8,341.1 334.3,338.1 334.3,336.6 333.8,336.1 334.3,332.1 336.3,330.6 337.3,330.6 338.8,332.1 340.8,332.1 340.8,330.6 337.8,331.1 336.3,329.6 334.3,330.6 332.3,329.6 330.3,327.6 330.3,323.1 331.8,321.1 331.8,319.1ZM342.8,315.6 341.3,317.1 340.8,320.6 343.8,323.1 344.8,325.1 346.8,327.1 347.8,327.1 349.3,326.1 350.8,323.6 350.3,322.6 348.3,321.1 347.8,319.1 344.3,316.1ZM443.8,310.6 441.3,309.1 440.8,309.6 439.3,309.6 437.3,311.6 437.3,312.6 437.8,313.1 443.3,312.1ZM435.8,292.1 432.8,292.6 429.8,295.1 427.3,293.6 423.8,296.1 423.3,299.1 421.3,301.1 420.3,303.6 417.8,305.6 414.3,305.6 413.8,305.1 409.3,304.6 408.8,305.1 407.3,305.1 401.3,308.6 399.3,307.6 392.8,307.6 391.8,308.1 395.8,310.6 392.8,311.6 389.8,314.1 388.8,312.6 388.8,310.1 386.3,312.6 385.3,314.6 382.8,315.1 377.8,310.6 376.3,310.6 376.8,311.1 376.3,311.6 373.3,311.1 372.3,309.1 368.8,306.6 365.8,306.1 363.8,307.6 363.3,308.6 363.8,309.6 361.8,312.1 361.3,313.6 360.3,314.6 357.8,315.6 357.8,321.6 357.3,322.1 357.8,326.6 354.8,329.1 354.8,332.1 356.3,336.1 355.8,336.6 355.8,342.1 355.3,342.6 356.3,344.6 356.3,347.1 353.8,348.6 352.3,347.1 351.8,345.1 350.8,344.6 350.3,345.1 348.3,345.1 343.8,343.6 342.8,344.1 341.8,345.6 341.8,350.1 348.3,352.6 350.8,352.1 351.8,353.6 351.8,356.1 356.3,360.6 357.8,360.6 359.8,362.1 359.8,364.1 357.8,367.1 357.8,368.6 359.3,370.1 363.3,377.6 365.8,380.1 370.3,381.6 372.8,380.1 372.8,378.1 376.3,373.1 376.8,368.6 378.8,365.1 380.3,363.6 383.3,364.1 385.8,366.1 387.8,366.1 389.8,367.1 392.3,369.6 393.8,369.6 397.3,367.6 402.3,368.1 405.3,370.6 409.3,370.6 409.8,370.1 411.8,370.1 413.3,369.1 413.3,366.1 410.3,362.1 409.8,360.1 411.3,358.1 414.3,358.1 414.8,357.6 415.3,358.1 416.3,357.1 415.8,355.1 417.3,352.1 417.3,349.6 415.8,347.6 414.8,347.6 413.8,346.6 413.8,345.6 417.3,342.6 419.3,341.6 421.8,341.6 422.3,342.1 428.3,337.6 429.3,334.6 431.8,331.6 432.3,329.1 434.8,326.6 435.8,324.6 437.3,323.6 440.3,323.6 440.8,323.1 440.8,322.1 439.8,320.6 436.3,319.1 434.8,315.6 434.8,314.1 435.8,312.6 435.8,309.6 434.3,305.6 435.8,304.6 437.3,304.6 439.3,303.1 438.8,300.6 435.3,298.1 435.3,296.6 436.3,295.6 438.8,295.1 438.8,293.6ZM371.8,334.6 374.8,335.6 377.8,339.6 379.8,341.1 382.3,347.1 382.8,351.1 383.3,351.6 382.8,353.1 376.3,353.1 368.8,346.6 366.8,346.1 365.8,345.1 365.8,341.1 367.3,338.6ZM236.3,177.1 236.3,182.6 237.8,182.1 238.3,179.6 237.8,178.1ZM564.3,170.6 561.8,170.1 560.8,168.6 558.8,167.1 556.3,167.1 554.8,168.6 554.8,170.6 553.8,171.6 552.3,172.1 551.3,171.6 551.8,174.1 555.8,177.6 554.3,178.6 551.3,179.1 550.3,180.1 549.3,176.6 546.8,174.1 547.3,177.1 546.3,178.6 544.8,177.1 542.8,177.1 542.3,176.6 542.8,173.6 539.8,174.1 537.3,177.1 537.3,182.1 539.8,185.1 541.8,186.1 541.8,188.1 540.8,189.1 540.8,190.6 539.8,191.6 538.8,191.6 536.8,189.6 534.8,185.6 535.8,183.1 535.8,181.1 534.3,179.6 534.3,174.1 533.8,173.1 529.8,169.6 519.8,168.6 519.3,169.1 520.3,170.1 519.3,173.6 519.3,177.6 519.8,178.6 518.8,179.1 515.8,176.6 516.3,176.1 515.8,173.6 515.8,178.6 516.8,180.6 520.8,184.1 520.8,186.1 522.3,189.6 520.3,192.1 518.8,191.1 517.8,189.1 517.3,190.1 517.3,195.6 518.3,196.1 519.3,197.6 518.3,198.6 516.8,198.1 515.3,199.6 510.8,199.6 508.8,200.6 505.3,204.6 505.3,208.6 500.8,212.6 497.3,213.6 488.8,213.6 486.8,215.1 487.3,219.6 487.8,220.1 485.3,221.1 483.3,223.1 481.3,221.6 481.3,220.1 480.3,221.6 479.8,227.1 478.8,228.6 478.8,229.6 480.3,229.6 482.3,228.6 482.8,229.1 481.8,230.6 481.8,232.6 479.3,233.6 476.8,237.1 475.3,237.1 474.8,236.6 476.3,234.1 475.8,232.1 470.3,237.1 467.3,237.1 467.8,237.6 473.8,237.6 474.3,238.1 472.3,240.6 462.3,240.6 461.8,240.1 462.3,237.1 459.3,237.1 455.8,233.1 455.3,228.1 454.3,225.6 453.3,218.6 452.3,217.6 447.8,218.1 445.3,216.1 442.8,215.6 431.8,220.1 429.8,222.6 427.8,223.6 425.3,223.6 424.3,224.1 423.3,227.1 423.3,230.1 420.8,232.1 416.8,232.1 416.3,232.6 411.3,232.6 408.3,234.6 405.8,237.1 404.3,237.1 401.8,238.1 397.3,242.6 391.8,242.6 388.3,244.1 384.8,248.1 382.3,249.1 380.8,250.6 376.8,258.1 374.3,260.1 370.8,261.1 366.3,260.6 363.3,259.6 362.8,258.1 360.8,256.6 357.8,256.6 356.3,255.6 352.8,255.6 350.8,256.6 347.3,257.1 345.8,258.1 342.8,258.1 340.8,257.1 339.3,257.1 337.8,260.1 334.3,260.6 333.3,261.6 333.3,262.6 334.8,263.6 338.3,263.1 338.8,263.6 339.3,268.6 341.8,271.1 346.3,274.1 348.8,274.6 350.3,275.6 351.8,275.6 353.3,277.1 354.3,279.6 357.3,281.1 359.3,281.1 361.3,279.1 364.8,278.6 368.3,276.6 370.3,277.6 373.8,277.6 379.3,274.6 381.8,271.6 383.3,271.6 384.3,272.6 385.3,272.6 386.3,274.1 389.8,277.1 396.3,277.1 400.3,273.6 400.8,272.6 400.8,269.6 399.3,270.1 395.8,267.6 401.8,263.6 404.3,263.6 405.3,264.1 406.3,265.6 408.3,265.6 409.8,264.6 412.8,264.6 413.8,265.1 414.3,266.1 415.8,266.1 416.3,266.6 416.8,266.1 418.3,266.1 418.8,266.6 423.8,266.6 426.8,265.6 429.3,265.6 433.3,270.1 435.8,270.1 437.3,271.6 438.8,271.6 441.3,275.1 441.3,278.1 445.8,282.1 446.3,288.1 448.8,292.1 448.3,293.1 448.8,293.1 449.8,294.6 449.8,296.6 448.8,298.1 448.8,299.6 449.8,300.6 450.3,302.6 452.8,305.6 452.8,308.6 451.3,310.1 449.8,310.6 449.8,313.1 449.3,313.6 448.8,313.1 446.8,313.1 446.3,314.6 447.8,316.1 448.8,316.1 449.8,313.6 450.8,315.6 453.3,318.1 453.8,320.6 457.3,323.1 457.8,326.1 461.3,326.1 463.3,328.1 464.8,331.6 466.8,332.6 467.3,334.6 466.3,335.6 464.8,334.6 463.3,334.6 460.8,335.6 462.3,338.1 463.8,339.1 462.3,339.6 465.8,341.1 464.8,342.1 461.3,342.1 458.3,343.6 453.8,343.1 452.3,344.1 450.3,344.1 448.3,345.6 448.3,348.1 445.8,352.6 445.8,355.1 446.8,356.1 446.8,359.6 445.8,360.6 443.3,361.1 441.3,359.6 440.3,353.6 435.3,354.1 433.8,355.1 434.3,356.6 434.3,358.6 432.3,359.6 427.3,359.6 424.3,362.1 422.3,363.1 420.8,363.1 419.8,365.1 420.8,366.6 422.8,366.6 427.8,365.1 430.8,365.1 434.3,368.1 436.3,369.1 441.3,370.1 443.8,373.6 444.8,373.6 446.8,375.1 446.3,378.1 446.8,378.6 450.3,377.6 452.3,376.1 456.3,379.6 459.3,379.6 462.8,377.6 465.8,377.6 469.8,381.6 473.8,381.1 477.3,377.1 479.3,376.1 481.8,376.1 484.8,374.6 486.3,374.6 489.8,373.1 494.8,373.1 498.3,371.6 501.3,368.6 500.3,367.6 502.3,364.6 502.3,363.6 504.8,361.6 507.3,361.6 508.3,362.6 509.8,362.6 511.8,361.6 514.3,359.1 512.8,357.6 512.8,356.1 515.3,354.1 515.3,346.6 514.8,346.1 518.3,343.1 511.8,346.1 511.3,345.6 511.3,343.1 511.8,342.6 513.3,342.6 515.3,341.1 515.3,338.1 515.8,337.6 518.3,338.1 519.8,340.1 521.3,341.1 523.8,341.1 524.8,340.1 525.3,335.6 526.8,331.6 526.8,323.1 528.3,320.1 528.3,317.6 526.3,316.1 523.3,316.1 519.3,314.1 519.3,312.6 520.3,311.6 521.3,311.6 523.3,313.1 524.8,312.1 524.8,307.6 522.8,305.1 522.3,302.6 520.8,300.6 520.3,303.1 522.3,307.6 521.3,309.6 519.3,310.1 517.8,309.1 516.3,309.1 514.8,311.1 508.3,311.6 507.3,312.1 503.8,316.1 502.8,315.1 502.8,312.6 500.8,312.1 499.3,310.6 500.8,309.6 500.8,309.1 499.3,308.1 495.3,303.6 495.3,302.6 498.8,298.6 498.3,297.1 499.3,296.1 500.8,296.1 502.3,298.1 506.8,294.6 508.3,292.6 509.8,292.1 511.8,293.1 516.8,298.6 516.3,300.1 516.8,300.6 516.8,298.1 517.8,296.6 517.8,294.6 515.8,291.6 515.8,289.1 520.8,284.1 521.8,281.6 522.8,280.6 525.8,279.6 527.8,277.6 530.8,273.1 530.8,270.1 532.3,267.6 535.8,267.6 539.3,270.1 544.3,270.1 547.8,271.1 548.3,270.1 547.8,269.1 544.3,266.1 543.8,264.1 544.3,263.1 546.3,261.6 548.3,261.6 549.8,263.1 551.3,263.1 552.3,261.6 552.3,259.6 551.3,258.1 550.8,254.6 549.8,253.1 549.8,251.1 549.3,250.6 549.3,246.6 551.8,244.1 552.3,244.6 552.3,246.6 553.3,246.6 556.3,248.6 555.3,251.6 557.3,252.6 564.3,252.6ZM476.8,350.6 477.8,351.1 478.8,352.6 478.8,353.6 477.8,354.6 476.3,354.1 476.3,351.1ZM447.3,268.1 449.3,268.6 450.8,270.1 451.8,274.1 452.8,275.6 452.3,277.1 449.3,277.6 448.3,276.6 448.3,273.1 446.3,269.6ZM438.3,265.6 440.3,266.1 441.8,268.1 441.8,269.1 439.3,271.1 436.3,269.6 436.3,267.6 436.8,266.6ZM388.8,247.1 389.3,245.1 390.8,243.6 395.3,245.1 394.3,246.1 392.8,246.1 389.8,247.6ZM548.8,237.6 550.3,236.6 552.8,236.1 555.8,238.6 555.8,241.6 554.8,242.1 552.3,240.1 552.3,241.6 551.8,242.1 548.3,239.6ZM551.8,166.6 555.3,166.6 557.8,164.6 560.8,166.1 562.8,165.6 559.8,163.6 555.3,163.6ZM296.8,154.6 294.8,153.6 288.8,153.6 286.8,152.6 284.3,152.6 284.3,154.1 282.8,156.1 281.3,156.1 277.8,157.6 276.8,155.6 276.8,154.6 277.8,153.6 274.8,154.1 272.8,155.1 271.3,156.6 271.8,159.6 270.3,160.1 270.3,167.6 270.8,168.1 266.3,173.6 253.8,173.6 252.3,174.1 250.3,177.1 243.3,182.6 241.8,185.6 242.8,188.1 243.3,194.1 243.8,194.6 242.8,197.6 242.8,205.6 243.8,208.1 247.8,211.6 248.8,213.6 248.8,215.6 249.8,218.6 253.8,220.6 255.3,220.6 257.8,217.6 259.8,216.1 259.8,214.6 259.3,214.1 260.8,211.6 261.3,211.6 262.8,213.6 264.3,211.6 264.3,206.6 262.3,204.1 261.8,201.6 262.8,201.1 262.8,199.1 263.8,198.1 265.3,198.6 267.3,193.6 266.3,186.6 267.8,186.1 268.3,184.6 269.8,184.6 274.3,186.6 280.8,186.6 281.3,185.6 287.3,185.6 289.3,184.1 292.8,184.1 291.8,182.6 289.3,181.1 289.8,180.6 292.3,180.6 293.3,179.6 293.3,178.1 294.3,177.1 295.8,178.1 296.3,181.6 297.3,178.6 297.3,173.6 299.8,170.6 297.8,171.6 296.3,171.6 295.3,170.6 296.3,169.6 296.3,168.1 297.3,165.6 296.8,165.1 296.8,160.1 294.8,157.6 297.3,155.6Z"/>
<path fill="#0fa00f" fill-rule="evenodd" d="M364.3,361.6 363.3,362.6 363.8,372.1 365.8,376.1 366.8,377.1 368.3,377.1 370.3,375.1 371.3,373.1 371.3,371.6 369.8,368.1 371.3,365.1 371.3,363.6 370.3,362.6 367.3,362.6ZM361.8,349.1 360.3,351.1 360.8,352.1 362.8,353.6 364.8,353.6 365.3,353.1 365.3,350.6 363.8,349.1ZM452.3,347.1 450.3,349.6 450.3,352.1 452.3,353.6 452.3,357.1 450.8,360.1 450.8,361.1 451.8,362.6 453.3,368.6 454.3,369.6 457.3,371.1 458.3,371.1 460.3,373.6 461.8,374.1 467.8,374.1 468.3,373.6 470.8,373.6 473.3,371.6 473.3,367.6 471.3,365.6 471.3,361.6 470.8,361.1 470.3,356.1 473.3,353.6 473.3,349.6 472.3,348.6 470.8,348.6 470.3,349.1 469.8,348.6 466.8,348.6 465.8,348.1 463.3,345.1 463.3,343.6 463.8,343.1 461.3,343.1 458.8,347.6 455.8,346.6 453.3,346.6ZM389.3,341.6 387.8,343.1 387.8,346.6 390.3,348.6 389.3,356.1 389.8,357.6 391.8,360.1 395.3,360.6 397.8,362.1 401.3,363.1 405.3,361.1 406.3,361.1 405.8,358.1 410.8,355.1 411.8,354.1 411.8,353.1 413.8,351.1 414.3,349.6 414.3,347.6 413.8,347.1 411.8,347.6 409.3,346.6 407.3,346.6 405.3,344.6 399.8,346.1 397.8,345.1 395.8,342.6 393.3,340.6 392.8,341.1ZM363.3,332.6 362.3,334.1 362.3,335.6 364.3,336.1 365.8,334.1 364.8,332.6ZM432.8,322.6 432.3,316.6 431.3,314.6 431.3,312.1 432.3,309.1 431.3,307.6 429.3,306.6 427.8,306.6 424.8,308.1 422.8,308.1 416.8,311.6 414.3,311.6 411.3,312.6 407.8,314.6 407.3,315.6 404.8,315.6 403.8,314.6 400.3,314.6 398.8,313.6 399.8,312.6 398.3,311.1 395.8,311.1 395.8,312.6 392.3,315.1 390.8,315.6 389.8,314.1 388.8,315.6 390.8,316.6 389.3,318.6 384.8,320.1 380.3,320.1 378.8,320.6 377.3,319.1 376.8,317.6 378.3,317.1 377.8,315.1 376.8,314.1 376.8,316.1 376.3,316.6 373.8,315.1 373.3,313.6 370.8,311.6 369.3,311.6 366.8,313.1 365.3,313.1 364.3,313.6 362.8,315.6 362.8,318.1 364.3,320.1 363.8,320.6 364.8,321.1 364.8,324.6 365.3,325.6 370.3,326.6 371.3,327.6 370.8,328.1 371.3,329.1 372.8,329.1 373.8,330.1 374.3,332.6 376.3,334.6 382.3,339.1 386.3,339.6 386.8,340.1 387.8,340.1 388.8,339.1 389.8,336.6 389.8,335.1 391.3,333.1 398.3,333.1 400.3,335.1 403.3,336.1 404.8,337.6 407.8,339.1 410.3,339.1 413.3,340.6 417.8,340.1 419.3,339.1 422.3,338.6 423.8,336.1 429.3,330.6 429.8,328.1ZM350.8,259.1 349.3,260.1 348.8,262.6 347.8,263.6 345.3,263.6 343.8,262.6 342.3,264.1 342.3,266.6 343.8,268.1 345.8,268.6 347.8,271.1 349.8,272.1 350.8,272.1 351.8,271.1 351.8,269.6 350.8,267.6 350.8,264.6 352.8,262.1 352.8,259.6ZM288.8,173.6 288.8,174.6 289.8,175.6 289.3,178.6 291.3,178.6 291.8,177.1 293.8,177.1 293.8,174.6 292.3,173.1 289.3,173.1ZM525.3,172.1 520.8,172.1 519.3,173.6 519.3,175.1 520.3,176.6 520.3,179.1 521.3,180.1 523.8,181.1 527.3,181.1 528.3,183.1 527.8,185.6 523.8,188.1 523.3,191.6 521.8,192.6 520.8,192.1 520.8,195.1 522.3,198.1 517.3,202.6 515.3,203.6 514.8,203.1 511.8,203.1 510.8,203.6 508.8,205.6 508.8,209.1 509.8,210.6 508.8,211.6 505.8,212.6 500.8,216.6 498.3,216.6 497.8,217.1 489.8,217.1 487.8,219.1 487.8,220.1 488.8,221.6 485.8,223.6 483.8,223.6 483.3,228.1 484.8,226.6 485.3,227.1 485.3,229.6 483.8,231.6 483.8,234.1 482.8,235.1 479.8,235.6 479.3,238.1 477.8,239.1 476.3,239.1 473.3,242.6 461.8,242.6 461.3,242.1 461.8,240.6 459.3,240.6 458.8,239.6 454.8,236.1 453.3,236.1 450.8,235.1 448.3,232.6 446.3,232.1 445.3,231.1 444.8,223.6 442.8,221.1 433.8,221.6 432.3,223.1 431.3,225.6 429.3,227.1 427.3,227.1 425.8,228.6 424.8,232.1 421.3,235.6 419.8,236.1 417.8,238.1 416.3,238.6 413.3,237.1 411.3,237.1 410.3,238.1 406.8,239.1 403.3,241.6 400.3,242.6 398.3,245.6 397.3,246.1 397.3,247.1 395.8,248.1 393.8,248.1 390.8,249.1 386.8,249.1 386.3,249.6 384.8,249.6 382.3,251.1 381.3,253.6 381.3,255.1 379.8,258.1 376.3,262.1 372.8,263.6 371.3,263.1 367.3,263.6 367.8,264.6 370.3,265.6 370.3,267.1 368.3,270.1 367.3,270.6 365.8,270.1 365.3,269.1 362.8,267.1 362.3,267.6 357.3,267.1 356.3,268.1 356.8,273.6 357.8,274.6 360.8,274.6 363.3,276.6 367.3,273.1 368.8,273.1 371.3,274.1 371.8,273.6 376.8,272.6 378.8,269.1 382.3,266.1 383.3,266.1 387.3,268.6 388.8,268.6 389.3,269.1 389.3,272.1 390.8,273.6 395.3,273.6 397.3,271.6 397.3,269.1 395.8,269.1 393.8,266.6 395.8,264.6 397.3,264.1 399.3,262.1 400.8,259.6 402.3,259.1 405.3,260.1 405.8,261.1 407.3,262.1 416.3,262.6 418.3,261.6 421.3,261.6 424.3,263.1 429.8,263.1 432.8,265.1 433.8,265.1 436.3,263.1 439.3,262.6 440.8,260.6 440.3,259.1 440.8,258.6 442.8,258.6 443.8,257.6 445.3,257.6 447.8,259.1 449.3,261.1 449.3,263.1 450.3,265.1 453.8,267.6 458.3,269.1 458.8,268.6 460.8,268.6 460.3,267.6 460.8,266.6 461.8,266.6 463.3,265.6 464.8,266.1 466.3,267.6 466.8,270.1 464.8,272.6 463.3,273.1 461.8,274.6 461.8,276.1 460.8,277.1 459.3,277.1 457.8,278.6 457.8,280.1 457.3,280.6 451.3,280.6 449.3,282.6 449.3,285.1 449.8,286.1 452.3,287.6 452.3,293.1 452.8,293.6 452.8,294.6 451.3,295.1 449.8,296.6 449.8,300.6 452.3,302.6 453.8,302.6 454.8,304.1 454.3,304.6 455.3,308.1 454.3,309.6 453.3,309.6 453.3,312.6 454.8,314.6 456.8,315.1 459.3,318.6 463.3,318.6 466.3,320.1 466.3,321.1 467.8,323.1 466.3,325.1 468.8,327.1 468.8,329.6 469.8,333.1 471.3,336.1 474.3,340.1 473.8,342.1 471.8,343.6 472.3,344.1 474.8,344.1 477.3,346.1 477.8,349.1 479.8,351.1 482.3,351.1 482.8,351.6 482.3,352.6 482.3,355.1 483.8,357.1 484.3,359.6 482.3,362.1 479.8,363.6 481.8,369.6 483.3,371.1 485.8,372.1 488.3,371.1 492.8,370.6 497.3,366.6 497.8,367.1 499.3,365.6 500.8,360.6 501.8,359.6 503.3,359.6 503.8,359.1 508.8,359.1 511.3,357.1 511.8,355.6 511.8,347.6 511.3,346.6 510.8,347.1 511.3,352.1 510.3,353.6 509.8,353.1 509.3,341.1 509.8,340.6 512.3,340.6 513.3,340.1 513.3,337.6 515.3,336.6 515.3,333.6 514.8,332.6 512.8,331.1 509.8,331.1 510.3,333.1 508.8,334.6 507.8,334.6 507.3,336.1 503.8,333.1 503.8,329.1 502.3,328.6 501.8,327.6 502.8,326.6 503.8,326.6 503.8,325.1 504.3,324.6 507.8,325.1 509.3,322.6 511.3,322.6 510.8,322.1 511.3,320.6 514.3,320.6 514.8,321.1 513.8,322.6 515.8,322.6 516.3,323.1 515.8,324.1 516.3,325.6 518.3,326.6 519.8,326.6 521.3,325.6 522.3,325.6 523.3,324.1 523.3,321.6 521.8,320.6 519.8,320.6 519.3,320.1 519.3,316.6 517.8,315.1 516.3,314.6 509.3,315.1 507.8,316.6 507.8,321.1 508.3,321.6 507.8,322.1 503.8,320.6 501.3,318.6 500.3,318.6 499.3,317.1 499.3,313.1 497.8,311.1 496.8,311.1 493.8,307.1 492.3,307.1 491.8,306.6 491.8,300.6 490.3,299.6 490.3,298.1 493.3,296.6 494.8,298.1 496.3,294.6 501.3,294.6 503.3,292.6 503.3,291.6 504.8,291.1 503.8,290.6 503.3,289.6 505.8,287.6 511.8,287.6 513.3,284.6 512.8,280.6 515.3,278.6 515.8,271.6 514.3,269.6 515.3,268.6 522.3,273.6 523.8,274.1 525.8,274.1 526.8,272.6 525.8,270.1 526.3,265.6 525.3,263.1 525.3,261.1 526.8,259.6 527.8,260.1 527.8,262.1 532.3,264.6 533.8,264.6 535.8,262.6 538.3,264.1 539.8,264.1 547.8,257.6 548.3,255.6 547.3,253.6 547.8,253.1 547.8,250.6 547.3,250.1 546.8,246.6 545.3,245.1 543.8,245.1 542.3,244.1 542.3,241.6 544.8,239.6 545.8,237.1 548.8,234.1 551.3,232.6 554.3,232.1 554.3,231.1 553.3,229.6 553.3,227.1 555.3,225.6 557.3,226.6 558.3,228.6 557.8,229.6 556.3,230.1 555.8,231.6 555.8,238.6 557.3,240.6 557.3,241.1 555.8,242.1 555.8,247.1 558.3,249.1 559.8,249.1 559.8,247.6 560.3,247.1 564.3,247.1 564.3,192.1 563.3,192.1 560.8,193.6 558.8,193.6 557.8,192.6 557.8,191.1 559.3,190.1 558.8,188.6 553.3,190.1 551.8,191.1 550.8,191.1 548.8,189.6 545.8,189.6 539.3,195.6 536.8,193.6 535.3,190.6 530.8,185.6 530.8,183.1 529.3,180.6 530.8,179.1 530.8,175.1 528.8,173.1 527.3,173.1ZM491.3,355.6 491.8,355.1 495.3,355.1 496.8,357.1 496.3,357.6 495.3,356.6 493.8,356.6ZM486.8,340.6 488.3,341.6 488.3,343.1 489.3,345.6 489.3,349.1 488.3,350.1 486.3,350.1 485.3,349.1 485.3,348.1 484.3,347.1 483.3,344.1 483.8,343.1ZM508.3,318.1 508.3,317.1 510.3,315.6 512.3,315.6 514.8,316.6 514.3,317.1 510.3,317.1 509.3,319.6ZM513.3,258.1 513.8,258.6 513.8,260.6 514.8,260.1 516.3,261.6 516.8,264.1 515.3,265.1 513.3,268.1 512.3,268.1 510.8,266.1 511.3,264.6 510.8,259.1ZM536.3,240.1 539.8,243.6 539.8,245.6 538.8,246.6 535.3,247.1 533.3,245.1 532.3,246.1 531.8,248.1 529.3,249.1 527.8,250.6 527.8,255.1 527.3,255.6 523.3,252.1 522.8,251.1 523.3,249.6 524.3,248.6 526.8,249.1 528.3,248.1 530.3,244.1 530.8,241.6 532.8,239.6 535.3,239.6ZM554.8,171.1 554.8,172.1 557.3,174.1 559.3,174.1 561.3,172.6 561.3,171.1 560.8,170.6 559.3,170.6 558.8,169.6 557.3,169.1 556.3,170.6ZM294.8,157.6 293.8,157.1 290.8,157.1 289.3,155.6 285.3,155.6 284.8,156.1 283.3,156.1 283.3,157.6 282.8,158.1 278.8,159.6 277.8,159.1 277.8,157.6 274.8,158.1 273.8,159.1 273.8,166.6 274.3,167.1 272.3,168.6 270.8,171.6 270.8,173.1 268.3,176.6 268.3,178.6 267.8,179.1 265.8,179.6 261.8,176.6 256.3,176.1 255.3,176.6 253.3,179.1 249.8,180.6 248.8,181.6 244.8,189.1 245.3,193.6 246.8,197.1 247.8,198.1 247.8,201.1 247.3,201.6 246.3,201.1 246.3,204.6 246.8,206.1 251.3,210.1 251.3,211.1 253.8,213.1 257.8,213.1 258.3,212.6 256.8,212.1 256.3,212.6 254.3,212.6 253.3,211.6 253.8,210.6 256.8,211.1 258.8,209.6 260.3,211.1 260.8,210.6 260.8,207.6 260.3,207.1 259.3,208.6 256.3,207.1 257.3,204.1 258.8,202.6 258.8,200.1 258.3,199.1 260.8,198.1 262.3,196.6 264.3,190.6 264.3,186.1 263.8,185.6 268.8,180.1 275.3,183.1 279.8,183.1 281.8,182.1 286.3,182.1 287.8,180.6 288.8,180.6 288.8,180.1 285.8,177.6 285.3,175.6 289.8,170.6 290.3,171.1 294.3,171.1 295.3,170.6 294.3,169.6 296.3,168.1 296.8,163.6 294.8,161.6 293.8,159.6Z"/>
<path fill="#3c96f5" fill-rule="evenodd" d="M402.8,356.1 401.3,356.1 399.8,357.1 399.8,361.1 400.3,361.6 403.3,361.1 404.3,360.1 403.8,357.1ZM485.8,356.6 485.8,358.1 486.8,359.1 485.3,361.6 485.8,365.1 487.3,364.6 489.8,367.6 490.8,367.6 497.3,364.6 498.3,362.1 498.3,359.1 495.3,356.6 494.3,356.6 495.3,357.6 495.3,359.6 494.3,361.6 492.8,363.1 490.3,363.6 488.8,361.6 489.3,358.6 491.3,356.6 493.3,356.1 488.3,355.6ZM400.8,349.6 398.3,349.6 395.8,351.1 396.3,353.1 395.3,354.6 395.3,355.6 396.3,356.6 397.8,356.6 399.3,353.6 401.8,351.6 401.8,350.6ZM405.3,347.1 405.8,348.6 407.3,350.1 409.3,350.1 409.8,350.6 411.3,350.6 412.3,348.6 411.3,347.1 409.8,347.1 409.3,346.6 405.8,346.6ZM460.3,345.1 459.3,347.1 455.8,349.6 455.3,352.1 455.8,352.6 455.8,355.6 458.8,357.6 459.8,359.1 459.3,360.1 463.8,365.1 463.8,366.1 460.3,368.6 460.8,371.1 462.8,372.1 469.8,371.6 471.3,370.6 471.3,368.6 468.3,366.1 468.8,365.6 468.8,360.6 467.3,359.1 467.8,358.6 467.3,354.6 471.3,352.6 471.3,349.6 469.8,348.6 467.8,348.6 465.8,350.6 463.8,351.1 459.8,347.6 463.3,346.6 463.8,345.6 463.3,345.1ZM392.3,343.1 389.8,344.1 389.8,345.6 390.3,346.1 391.8,346.1 392.8,345.1 392.8,343.6ZM480.8,341.1 479.8,342.1 479.8,343.6 479.3,344.1 479.3,347.6 480.8,349.1 482.3,349.1 483.3,348.6 483.8,347.1 483.3,346.6 483.3,342.1 482.3,341.1ZM469.3,321.1 468.3,321.6 467.8,323.1 468.3,324.1 470.3,324.6 471.3,324.1 471.3,321.6 470.8,321.1ZM517.3,317.6 515.3,316.6 514.3,317.1 510.3,317.1 509.8,317.6 509.8,320.1 510.3,320.6 516.8,320.6 517.3,320.1ZM510.8,317.6 511.3,317.1 513.3,317.1 514.8,318.1 514.8,319.1 513.3,320.1 512.3,320.1 510.8,319.1ZM370.8,316.1 370.3,317.1 367.8,319.1 367.8,321.6 367.3,322.1 365.3,322.1 365.8,324.1 367.3,325.6 370.8,327.1 373.3,327.1 376.3,326.1 376.8,326.6 376.3,327.6 376.3,331.6 377.8,332.6 381.3,333.1 383.3,335.1 384.3,334.6 384.3,333.1 382.8,332.6 383.3,332.1 386.8,331.1 389.8,329.1 390.3,326.6 388.8,325.6 386.3,325.6 381.3,328.1 379.8,328.1 378.8,326.1 377.3,326.1 376.8,326.6 376.3,326.1 376.8,325.1 376.8,319.1 375.8,316.1 373.8,316.1 373.3,315.6ZM430.3,319.6 429.8,319.1 429.8,317.1 428.3,315.1 427.3,316.1 420.8,315.1 420.3,315.6 413.3,316.1 412.8,316.6 403.8,317.1 400.8,318.6 400.8,319.1 396.8,322.6 396.8,324.1 397.8,325.1 399.3,325.1 399.8,324.6 399.8,323.1 400.8,322.1 403.3,322.6 405.3,324.6 405.8,326.1 402.8,327.6 401.8,327.6 399.8,326.1 399.3,327.6 401.3,330.6 405.3,333.1 407.3,333.1 407.3,331.6 407.8,331.1 410.3,334.6 413.3,336.6 415.3,337.1 419.3,335.1 422.8,331.6 424.3,332.1 426.3,330.6 426.8,329.1 426.3,326.6 430.3,321.6ZM420.3,329.1 421.3,332.6 419.3,335.1 417.8,335.1 416.3,333.6 416.3,332.6ZM397.3,313.1 394.8,313.1 391.3,315.6 390.8,318.1 392.3,320.1 394.3,319.6 397.8,315.6 397.8,313.6ZM395.3,270.1 394.3,269.1 391.8,269.6 391.3,271.1 391.8,271.6 394.3,271.6ZM458.8,260.1 457.3,259.1 455.3,259.6 453.8,262.1 454.3,263.6 455.8,263.6 458.8,261.6ZM467.8,258.1 465.8,257.6 463.3,259.6 462.3,259.1 460.3,259.1 459.8,259.6 459.8,266.1 460.3,266.6 461.3,266.6 462.3,265.1 462.8,265.6 462.8,263.6 463.8,262.6 464.8,263.6 466.8,263.1 468.3,259.6ZM397.3,248.1 392.3,248.6 390.8,249.6 388.3,253.6 387.3,253.6 384.8,252.1 383.8,253.1 383.8,254.6 385.3,256.6 382.8,258.6 382.3,259.6 382.3,262.6 386.3,265.6 390.3,266.1 392.8,265.1 396.8,261.6 396.8,260.6 398.8,257.1 399.3,249.6ZM541.3,247.1 541.3,248.6 540.3,249.6 536.8,247.1 534.3,247.1 533.8,249.6 532.8,250.6 531.3,250.6 529.8,251.6 529.8,262.1 532.8,262.6 534.3,259.1 535.8,259.1 536.3,258.6 537.3,258.6 538.3,259.6 539.8,259.6 540.3,258.6 537.8,256.6 537.8,255.6 541.3,254.1 541.3,252.6 541.8,252.1ZM489.8,242.6 488.8,243.1 487.8,244.6 490.3,247.1 490.8,243.6ZM450.8,238.6 448.8,236.1 446.8,235.1 445.3,236.1 445.3,238.1 444.3,238.6 443.3,237.1 443.3,235.6 441.3,234.6 439.8,234.6 439.8,236.1 437.8,237.6 436.3,235.1 438.3,233.1 437.8,232.6 439.3,229.6 439.3,228.1 438.3,227.1 436.8,227.1 434.3,230.6 424.8,235.6 423.8,236.6 422.8,243.1 417.8,246.1 417.8,247.1 420.3,249.1 420.3,250.1 415.8,254.1 412.3,254.1 409.8,253.1 407.3,249.6 403.3,246.6 401.3,246.6 400.8,247.6 402.3,250.1 402.8,255.1 404.3,257.6 406.3,259.6 411.3,260.1 411.8,260.6 415.3,260.6 419.8,258.6 421.8,257.1 422.8,257.1 423.3,257.6 428.3,258.6 429.8,260.6 431.8,260.6 432.3,260.1 431.3,258.6 431.8,257.6 435.3,257.6 436.3,258.6 442.8,258.6 443.3,258.1 443.3,248.1 444.8,246.6 448.8,246.6 448.3,245.1 448.8,243.1 447.8,242.6 447.3,240.6 448.3,239.6 449.8,239.6ZM433.8,239.6 435.3,240.6 435.8,244.1 435.3,244.6 435.3,248.1 432.8,250.1 432.8,250.6 435.3,252.6 434.3,253.6 433.3,253.6 435.3,253.6 437.3,254.6 437.3,256.1 435.3,257.1 428.8,255.6 428.3,255.1 428.8,254.6 431.3,254.1 429.3,253.6 427.3,252.1 427.8,250.1 429.3,248.6 428.3,247.6 428.3,246.6 432.3,243.6 430.3,242.1 432.3,240.1ZM253.3,207.6 253.3,210.1 254.8,211.1 256.8,211.1 258.8,209.6 258.8,208.6 257.8,207.6 256.3,207.6 255.8,207.1 253.8,207.1ZM513.8,205.1 512.8,205.1 510.8,206.6 510.8,208.1 513.3,208.1 513.8,208.6 513.3,209.1 513.3,211.6 513.8,212.1 509.8,214.6 506.8,214.6 503.3,217.6 506.8,220.1 506.3,220.6 503.3,221.6 500.8,218.6 499.3,219.1 490.8,219.1 489.8,220.1 489.8,221.1 488.8,222.6 487.3,222.6 485.8,223.6 485.3,229.6 484.3,230.6 484.3,233.1 482.8,235.1 480.3,235.6 478.8,238.6 476.3,239.1 475.3,240.6 475.3,241.6 474.3,242.6 455.3,242.6 453.8,243.1 454.3,244.6 452.8,246.1 451.3,246.6 452.3,250.6 448.8,252.6 447.3,254.1 448.3,256.1 450.8,257.1 453.3,256.1 454.3,254.6 454.3,251.6 453.3,251.1 453.8,250.6 454.8,250.6 455.8,252.1 456.8,252.1 458.8,250.6 468.3,250.6 468.8,250.1 469.8,250.1 471.8,251.6 471.8,253.1 471.3,253.6 470.3,251.6 469.3,252.1 469.3,253.1 471.8,255.1 470.8,258.1 470.8,259.6 471.8,261.1 470.3,263.1 468.3,263.1 467.8,264.1 467.8,272.6 466.3,274.6 465.3,274.6 463.8,275.6 463.8,277.1 462.3,279.1 460.3,279.1 459.8,279.6 459.8,281.1 458.8,282.6 457.3,283.1 456.3,282.6 452.3,282.6 451.3,283.6 451.8,285.1 453.3,285.6 457.8,285.1 459.8,286.6 458.8,287.1 458.3,288.1 455.8,289.1 455.8,295.6 454.3,297.1 452.3,297.1 451.8,297.6 451.8,300.1 458.3,301.1 459.3,302.1 459.3,303.6 455.8,306.1 455.3,311.6 455.8,312.6 458.3,313.1 459.3,314.1 459.3,315.1 460.3,316.6 462.8,316.6 463.3,315.6 463.3,310.6 465.8,308.6 474.3,308.6 475.8,310.6 475.8,312.1 479.3,313.6 478.8,314.1 474.8,314.1 473.8,315.6 477.8,319.6 479.3,317.1 479.8,317.6 479.8,323.1 478.8,324.6 476.8,324.6 475.8,325.1 475.3,326.1 475.3,333.6 475.8,334.1 475.8,335.6 476.8,336.6 483.3,336.6 483.8,337.1 487.8,336.6 488.8,337.1 489.8,340.6 493.3,342.1 494.3,346.1 497.3,348.1 496.8,349.1 497.3,348.6 497.8,349.1 497.8,356.6 498.3,357.1 501.3,357.1 501.8,357.6 502.8,357.1 507.8,357.1 509.3,356.1 509.8,354.6 509.8,348.6 509.3,348.1 509.3,344.1 508.8,343.1 509.8,340.6 512.3,340.6 513.3,340.1 513.3,334.6 512.8,333.6 511.8,333.1 509.8,333.6 509.8,340.6 508.3,341.1 505.8,339.6 505.8,338.6 500.8,333.1 501.8,331.6 501.8,322.1 501.3,321.1 498.8,320.6 497.3,319.1 497.3,314.1 496.8,313.1 494.8,312.6 493.8,311.6 493.8,310.6 492.8,309.1 489.8,309.1 489.3,308.6 489.8,300.1 488.8,299.1 488.8,297.6 490.3,296.6 490.8,297.1 492.8,297.1 493.8,295.6 493.8,293.6 495.3,292.6 500.3,292.6 501.3,291.6 501.8,289.6 502.3,289.1 503.8,289.1 505.3,287.6 505.3,284.6 506.3,283.6 507.8,284.1 508.8,283.1 509.8,279.1 513.3,277.6 513.3,273.6 513.8,272.6 512.8,271.1 506.8,271.1 505.8,270.1 507.8,268.1 507.8,266.1 505.8,264.6 504.8,264.6 503.3,266.6 502.3,266.1 494.8,266.6 492.8,264.1 492.8,263.1 495.3,259.1 497.3,260.6 497.3,262.1 499.8,263.6 504.8,263.1 505.3,262.6 508.8,262.6 509.8,259.6 511.3,258.6 512.8,258.6 513.8,257.1 513.8,255.6 516.8,254.6 517.3,254.1 517.3,252.1 518.8,250.6 520.8,250.1 521.3,249.1 521.3,246.1 523.8,241.6 522.3,242.1 521.8,241.6 521.8,239.6 525.3,238.1 526.3,230.1 527.3,229.6 528.3,231.1 528.8,231.1 529.8,229.6 529.8,228.1 530.8,227.1 531.8,227.1 533.3,226.1 533.3,224.6 529.3,224.6 528.8,224.1 529.3,223.6 529.3,221.1 529.8,220.1 532.3,217.6 533.3,218.1 533.3,216.1 535.3,214.1 534.8,212.1 533.3,211.6 528.3,215.1 521.8,215.1 520.3,214.1 520.8,213.6 520.8,211.6 518.3,209.6 516.8,209.1 515.8,207.6 514.8,208.1ZM494.3,335.1 495.8,335.1 497.3,336.6 497.3,338.1 496.3,339.6 494.3,337.1 493.8,335.6ZM478.3,327.1 479.3,328.6 477.3,330.6 476.3,329.6 476.3,328.6ZM491.8,274.6 492.8,275.1 493.8,276.6 493.3,277.1 493.3,280.1 491.3,281.1 489.3,281.1 487.3,278.6 487.3,276.6 488.3,275.6 489.8,275.6ZM493.3,267.1 493.8,267.6 493.3,270.1 492.8,270.6 490.8,270.6 489.8,269.6ZM484.8,261.6 487.3,263.1 484.8,264.6 485.3,266.6 483.8,268.1 483.3,269.6 482.3,270.1 481.3,268.6 481.3,264.6 480.3,263.1 480.8,262.6 483.3,262.6ZM487.8,238.6 495.8,238.6 497.3,239.6 497.8,241.1 497.8,250.1 496.8,251.1 495.3,251.6 490.8,251.1 489.8,250.1 489.3,247.6 485.8,246.1 485.8,240.1ZM503.3,226.6 510.8,226.6 511.3,227.1 512.8,227.1 513.8,228.6 513.8,237.1 513.3,237.6 513.8,245.6 513.3,246.1 513.3,254.1 512.8,254.6 510.3,254.6 509.8,254.1 509.8,248.1 509.3,247.6 507.3,247.6 506.3,246.6 506.3,244.6 508.3,243.1 503.8,243.1 502.3,242.1 500.3,243.1 498.8,242.1 497.8,240.1 497.8,239.1 498.8,238.1 501.8,238.6 501.8,236.6 502.3,236.1 503.8,236.1 503.8,232.6 504.3,232.1 507.8,232.6 508.3,231.6 508.3,230.1 507.3,229.1 504.3,229.6 504.3,231.1 504.8,231.6 504.3,232.1 501.3,230.1 501.3,228.1ZM503.8,223.1 504.3,222.6 508.3,222.6 508.8,223.6 507.3,225.1 506.3,225.1ZM519.8,203.1 519.8,209.1 520.8,210.1 522.8,211.1 525.3,211.1 528.3,209.1 529.3,210.1 529.3,208.1 530.3,206.6 530.3,204.6 529.3,202.6 527.3,201.6 527.3,200.6 523.3,200.6ZM546.8,191.6 545.8,192.1 540.3,198.1 537.8,199.6 539.3,203.1 538.8,203.6 538.3,203.1 536.3,203.1 534.8,204.1 534.8,207.6 535.8,209.6 537.8,209.1 540.3,206.1 540.8,206.6 540.8,209.1 541.8,212.6 541.8,214.6 538.3,215.6 536.3,218.1 536.3,219.6 537.8,221.1 537.3,222.1 537.3,227.6 536.8,228.1 537.8,234.1 538.8,234.6 542.3,234.6 542.8,235.1 545.3,234.6 545.8,232.1 546.8,231.1 548.8,230.6 549.3,228.1 553.3,225.6 553.3,219.6 549.8,218.1 549.3,217.1 549.8,215.6 550.8,214.6 555.8,214.6 556.3,215.1 556.3,217.1 557.8,217.6 557.8,222.1 557.3,222.6 557.3,225.6 558.3,228.6 558.3,232.1 557.8,232.6 557.8,246.1 559.3,247.1 564.3,247.1 564.3,244.1 563.3,243.6 564.3,243.1 564.3,196.1 560.8,198.1 560.8,200.1 561.3,200.6 560.8,201.6 558.8,201.6 555.8,199.1 553.3,199.6 552.8,201.6 551.3,202.6 553.3,203.6 553.8,204.6 552.3,206.1 550.8,206.6 548.3,205.1 547.8,202.1 545.3,200.1 545.3,198.1 546.3,196.6 549.3,194.1 549.3,192.6ZM522.8,192.1 522.8,194.1 524.8,197.1 525.8,197.1 526.3,195.6 530.8,197.1 533.3,197.1 533.8,197.6 534.8,197.1 534.8,196.1 533.3,194.1 533.3,192.6 530.8,191.1 529.3,191.1 527.8,189.1 525.3,189.6 525.3,190.1ZM258.8,181.1 254.8,182.6 253.3,181.6 250.8,182.6 250.8,185.6 251.8,188.6 251.8,191.1 251.3,191.6 251.3,193.6 249.3,197.1 249.8,198.1 248.3,199.6 248.3,203.6 249.3,205.6 250.3,205.6 251.8,204.6 254.8,201.6 255.8,198.6 257.8,196.6 259.8,196.1 260.8,194.6 262.3,189.6 262.3,187.1 259.3,185.6 259.8,182.1ZM291.3,175.1 290.3,175.1 289.3,177.1 289.3,178.6 291.3,178.6 291.3,177.1 291.8,176.6ZM521.3,174.6 521.3,176.6 521.8,177.6 523.3,178.6 527.8,179.1 528.8,178.1 528.8,176.1 527.8,175.1 526.3,175.1 524.3,174.1 521.8,174.1ZM270.3,177.6 271.3,179.1 274.8,180.1 276.3,181.1 278.8,181.1 280.8,180.1 285.3,180.1 285.8,179.6 285.8,177.1 284.8,175.1 284.8,172.6 281.3,170.1 279.8,170.1 279.3,169.6 277.8,170.1 276.3,168.1 273.8,170.6 273.8,172.6 275.8,173.1 276.8,174.1 276.8,175.6 276.3,176.1 271.8,176.1 270.8,176.6ZM275.8,160.1 275.8,165.6 276.3,166.6 278.3,168.1 288.3,167.6 290.3,169.1 293.3,169.1 294.3,168.6 294.8,161.1 294.3,160.1 292.8,159.1 287.8,159.1 287.3,158.6 288.3,157.1 285.8,157.1 284.3,158.1 282.3,158.1 282.3,159.6 281.3,160.6 280.3,160.6 279.3,159.1Z"/>
<path fill="#1e6eeb" fill-rule="evenodd" d="M461.8,350.1 457.8,353.1 459.3,353.1 460.8,354.1 462.8,356.6 463.3,358.1 463.8,357.6 463.3,354.6 464.8,351.6ZM496.3,339.6 497.3,342.1 497.3,344.6 497.8,345.1 499.8,345.1 501.8,349.1 501.8,353.6 502.8,353.1 505.8,353.1 505.3,344.1 504.8,343.6 502.8,343.6 501.8,341.6 499.3,341.6 497.8,340.1ZM426.3,320.1 420.8,319.1 420.3,319.6 413.3,320.1 412.8,320.6 408.3,320.6 407.8,321.1 406.8,320.6 408.3,322.1 411.8,330.6 415.3,333.1 416.8,332.1 419.8,328.6 421.8,327.6 423.8,323.1ZM420.3,323.6 421.3,322.6 422.8,322.6 423.3,323.1 423.3,324.6 422.8,325.1 420.8,325.1ZM492.8,316.1 492.3,318.1 490.8,319.6 488.3,320.6 485.8,320.6 485.3,321.1 483.8,320.6 483.8,323.1 482.3,326.6 481.3,327.6 479.3,328.1 479.3,332.6 483.3,332.6 483.8,333.1 487.8,332.6 489.3,333.1 492.3,335.1 493.3,337.6 493.3,336.1 494.8,331.6 496.3,330.1 497.8,329.6 497.8,324.1 496.3,323.6 494.3,321.6 493.3,319.1 493.3,316.1ZM472.8,291.1 471.3,291.1 471.3,292.1 470.3,292.6 470.3,293.6 471.8,294.6 471.8,293.6 473.3,293.1 473.3,291.6ZM477.3,264.6 476.8,265.1 476.8,267.6 477.3,268.1 478.8,268.1 479.3,267.6 479.3,264.6ZM398.8,251.1 397.8,251.1 395.8,252.6 395.3,252.1 393.3,252.1 390.3,254.1 388.3,254.6 387.8,256.1 390.8,257.1 387.3,260.1 386.8,261.1 389.3,262.1 390.3,264.1 392.3,264.1 393.3,262.6 393.3,261.1 391.8,260.6 394.3,257.6 394.8,254.6 395.3,254.1 397.8,254.1 398.8,253.1ZM423.3,246.6 424.3,250.1 422.8,253.1 427.8,254.6 426.8,253.1 426.8,251.6 424.8,249.1 424.3,247.1ZM501.8,246.1 501.8,250.1 500.8,252.6 499.3,254.1 495.8,255.1 498.3,256.1 500.3,258.1 500.8,259.6 506.3,258.6 506.8,257.6 506.8,256.1 505.8,254.1 505.8,248.1 505.3,247.1 503.8,247.1ZM481.8,241.1 478.8,242.6 478.3,244.1 475.8,246.1 474.3,246.6 470.3,246.6 473.3,247.6 475.3,250.1 475.8,251.6 475.8,256.1 475.3,256.6 475.8,261.1 474.3,264.6 471.8,266.6 471.8,272.6 470.3,275.6 467.8,275.1 466.8,276.1 467.3,278.6 466.8,279.1 464.8,278.6 462.8,281.1 463.3,282.1 462.3,284.1 462.8,287.6 461.8,290.1 459.8,291.6 459.8,295.6 458.8,297.6 460.8,298.1 462.3,299.6 461.8,304.1 462.3,304.1 462.8,305.1 462.3,306.1 459.8,308.1 459.8,309.6 460.3,308.1 462.3,306.1 465.8,304.6 474.3,304.6 475.8,305.1 478.3,307.1 479.3,309.6 479.8,309.6 480.8,307.1 482.3,305.6 485.8,304.6 485.8,298.6 486.3,297.1 488.3,294.6 489.8,294.1 490.8,291.1 493.8,289.1 498.3,288.6 498.8,287.1 501.3,285.6 502.8,281.1 504.3,279.6 505.8,279.1 506.8,276.6 507.8,275.6 509.3,275.1 506.8,275.1 504.3,274.1 502.3,272.1 501.8,270.1 496.8,270.6 496.3,273.6 497.8,276.6 497.3,278.1 494.8,281.6 491.3,282.6 487.8,281.1 486.3,279.1 485.8,275.6 487.3,272.6 486.8,271.6 486.3,271.6 484.8,273.6 482.3,274.6 479.8,274.1 477.8,272.6 479.3,270.6 478.3,269.6 476.8,270.1 475.8,269.1 475.8,267.6 475.3,267.1 475.3,263.6 476.3,261.1 478.8,259.1 482.3,258.6 484.3,257.6 487.8,259.1 488.3,258.6 490.8,258.6 492.8,256.1 494.8,255.6 489.3,254.6 488.8,254.1 488.8,252.6 485.3,250.1 483.8,248.1 482.3,247.6 481.8,246.1ZM467.3,285.6 468.8,285.1 471.8,285.6 474.3,287.6 475.3,289.6 476.3,289.6 478.3,291.1 479.3,293.6 479.3,295.6 478.3,298.1 476.8,299.6 474.3,300.6 471.3,300.1 468.8,298.1 468.3,296.1 466.3,295.6 464.8,294.1 463.8,291.6 463.8,290.1 467.3,289.1 467.3,287.1 466.8,286.6ZM438.3,237.6 439.8,244.1 439.3,244.6 438.8,249.6 438.3,250.6 435.8,252.6 437.3,254.6 439.3,254.6 439.3,248.1 440.3,245.6 442.3,243.6 443.8,243.1 443.8,242.1 441.8,241.6 440.8,240.6 439.8,238.1ZM503.8,222.6 503.3,222.1 501.8,222.1 499.3,223.1 492.8,223.1 491.3,225.6 489.3,226.1 489.3,229.6 487.8,232.6 487.3,235.1 487.8,234.6 495.8,234.6 497.8,235.6 497.3,234.6 497.3,228.1 497.8,226.6 499.8,224.1ZM545.8,217.6 544.8,220.1 542.8,222.1 541.3,222.6 541.3,227.6 540.8,228.1 541.3,230.6 542.3,230.6 543.8,228.6 543.3,225.1 545.8,222.6 546.8,225.1 549.3,223.6 549.3,222.1 546.8,220.6ZM515.3,212.1 516.3,214.6 516.3,216.1 515.8,216.6 514.3,216.1 511.3,218.1 508.3,218.6 506.8,220.1 508.8,222.6 510.8,222.6 515.3,224.1 517.3,227.1 517.8,228.6 517.8,237.1 517.3,237.6 517.8,245.1 517.8,239.6 518.3,238.1 519.8,236.1 521.8,235.6 521.8,232.1 522.8,229.6 524.3,228.1 526.3,227.6 526.8,225.6 528.3,224.1 528.3,222.6 529.3,221.1 529.3,218.6 528.3,219.1 521.8,219.1 521.3,218.6 517.8,218.1 516.3,217.1 518.3,215.6 518.3,213.6 517.3,212.1ZM543.8,204.1 544.8,206.1 545.8,216.1 546.8,213.1 548.3,211.6 550.8,210.6 556.8,210.6 559.8,212.1 558.8,212.6 558.8,214.6 559.8,215.6 560.8,215.1 561.8,216.1 561.8,222.1 561.3,222.6 561.3,225.6 562.3,228.6 562.3,232.1 561.8,232.6 561.8,243.1 562.8,243.1 562.3,242.6 562.3,237.6 564.3,236.1 564.3,203.1 562.3,202.1 562.3,205.6 561.8,206.1 555.3,204.6 551.3,206.6 548.3,206.6 544.8,205.1ZM547.8,193.1 546.8,193.1 545.3,194.1 545.3,195.1 546.3,196.1 548.3,195.1 548.3,193.6ZM257.8,189.6 255.8,189.1 255.8,191.1 254.8,194.1 256.3,193.1 257.3,193.1ZM279.3,173.6 278.3,174.6 278.8,177.1 281.8,178.6 282.3,180.1 283.8,180.1 282.3,179.1 281.3,173.1ZM279.8,163.1 279.8,164.1 288.3,163.6 290.3,164.6 290.8,163.1 286.8,163.1 284.8,162.1 282.3,162.1Z"/>
<path fill="#1464d2" fill-rule="evenodd" d="M498.3,342.1 497.8,343.1 499.8,345.1 500.8,345.1 502.3,343.6 502.3,343.1 501.3,343.1 499.3,341.6ZM464.8,298.6 463.3,298.6 462.3,299.6 463.3,302.1 463.3,303.6 462.8,304.1 464.8,303.1 466.3,300.6 465.8,299.1ZM466.8,279.6 464.8,282.1 463.3,282.6 463.8,283.1 464.3,288.6 464.8,287.6 466.8,286.1 466.3,285.1ZM500.3,278.6 499.3,278.6 498.3,279.6 498.3,282.6 499.3,282.6 500.3,281.6ZM467.8,278.1 469.3,278.1 470.8,279.1 471.8,279.1 471.8,276.6 470.3,275.6 470.3,276.1ZM395.3,252.6 393.8,252.1 391.3,256.6 393.8,255.6 394.8,254.6ZM481.8,248.1 480.8,249.1 480.8,251.1 481.8,252.6 483.3,253.1 485.8,255.1 487.8,255.1 488.8,254.1 486.8,252.6 486.3,251.1 483.8,249.6 482.8,248.1ZM494.8,225.6 493.3,229.1 494.3,230.1 496.3,230.1 497.3,229.1 497.3,227.6 495.8,225.6Z"/>
</g>
<g clip-path="url(#mc)" class="b">
<path d="M236.0,90.9 240.1,94.0 245.2,99.1 250.4,105.2 256.5,109.3 261.6,112.4 265.3,115.5 264.7,119.0 266.8,121.0 275.0,120.2 290.3,115.9 297.5,108.3 304.7,100.5 348.3,70.4"/>
<path d="M275.0,120.2 275.0,145.2 273.5,151.4 270.9,157.5 268.8,161.6 260.6,163.7 244.2,166.7 236.0,167.3"/>
<path d="M348.3,70.4 346.7,66.3 342.6,61.2 336.5,59.1 332.4,58.1 330.3,55.0"/>
<path d="M348.3,70.4 359.0,73.5 364.1,75.5 369.7,80.0 377.0,76.5 386.7,70.8 400.0,77.6"/>
<path d="M377.0,76.5 378.1,85.8 379.1,92.9 382.0,99.1 384.0,103.2 386.3,106.3 384.0,112.4 383.2,122.7 382.0,145.2 377.5,151.4 371.3,158.5 367.2,164.7 365.2,168.0"/>
<path d="M400.0,78.1 461.3,115.4 462.3,110.3 471.6,110.3 471.6,55.0"/>
<path d="M471.6,87.4 567.1,87.4"/>
<path d="M548.8,87.6 550.8,89.8 553.2,90.6 556.5,90.0 557.7,86.1 560.1,84.9 562.9,84.3 564.5,82.5"/>
<path d="M528.1,93.4 530.6,89.8 531.8,86.1 534.2,84.1 535.0,80.9 537.0,82.1 538.2,78.9 540.3,81.7 542.7,78.9 543.9,75.2 545.1,73.2 547.1,76.8 546.7,71.2 543.9,70.0 546.3,68.3 545.9,65.1" stroke-width="1.9"/>
<path d="M461.3,115.4 461.3,158.1 458.8,158.1 455.7,158.8 452.6,160.6 451.2,163.3 451.6,166.4 450.5,168.0"/>
<path d="M269.8,160.0 267.2,162.5 261.0,163.1 248.5,163.8 243.5,166.9 236.0,168.1"/>
<path d="M237.2,168.1 237.9,173.8 239.8,178.8 243.5,184.4 245.4,185.6 244.8,188.1 248.5,191.2 251.6,193.8 254.8,192.8 256.0,195.0 255.4,197.5"/>
<path d="M255.4,197.5 261.6,196.2 269.1,203.8 269.8,196.2 272.9,190.0 274.1,185.0 277.2,182.5 281.0,181.2 286.0,180.0 291.0,181.9 296.0,183.8 299.8,188.8 303.5,188.1 308.5,185.6 313.5,186.9 318.5,190.0 324.8,191.5 331.0,186.9 336.0,185.6"/>
<path d="M269.1,203.8 268.8,210.0 270.4,215.0 269.8,220.0 267.9,225.0 266.0,230.0"/>
<path d="M255.4,197.5 253.5,202.5 249.8,206.2 246.0,208.1 242.2,210.6 236.0,211.5"/>
<path d="M242.2,211.0 242.2,215.0 243.5,218.8 246.6,223.8 248.5,230.0"/>
<path d="M236.0,212.5 237.2,220.0 237.9,230.0"/>
<path d="M273.5,207.5 277.2,210.0 279.1,213.8 277.9,218.8 277.2,225.0" stroke-width="2.0"/>
<path d="M238.5,225.0 239.1,232.5 240.4,240.0 239.8,247.5 241.0,256.2 242.9,262.5 244.8,266.9 245.4,268.1"/>
<path d="M247.9,225.0 248.5,232.5 249.8,243.8 250.4,256.2 251.0,262.5 252.2,265.6"/>
<path d="M267.2,225.0 265.4,230.0 264.1,233.8 261.0,234.4 260.4,243.8 260.4,256.2 261.0,264.8"/>
<path d="M236.0,268.8 239.8,269.4 242.2,270.6 245.4,268.1 248.5,266.9 252.2,265.6 256.6,264.8 257.9,263.5 259.1,265.0 261.0,264.8 266.0,264.0 267.9,262.5 269.5,264.0 273.5,264.4 277.2,265.6 280.4,268.8 282.9,271.9 284.1,270.6 285.4,273.1 287.2,275.0 286.0,277.5 286.6,280.0 287.9,283.8 289.8,286.2 293.5,287.5 297.2,287.2 298.5,283.1 299.8,286.2 301.6,283.8 302.9,286.5 306.0,286.2 311.0,285.6 312.9,282.5 314.8,284.8"/>
<path d="M236.0,271.2 241.0,271.5 242.2,270.6"/>
<path d="M314.8,284.8 317.2,278.8 318.5,272.5 322.2,266.2 327.2,261.2 331.0,258.1 336.0,256.9"/>
<path d="M314.8,284.8 318.5,287.5 321.0,291.2 323.5,293.1 326.0,295.0"/>
<path d="M370.4,160.0 367.9,163.8 365.4,168.8 362.2,172.5 362.2,177.5 361.0,179.4"/>
<path d="M336.0,185.6 341.0,185.0 346.0,186.2 350.4,188.8 352.9,188.1 356.0,184.4 359.8,183.1 361.0,180.6"/>
<path d="M360.4,179.4 362.9,178.8 365.4,180.6 366.0,183.1 364.1,184.4 362.9,186.9 364.8,190.0 366.6,191.9 367.9,188.8 367.2,185.0 369.1,184.4 369.8,187.5 371.6,188.1 374.8,186.9 378.5,190.0 373.5,190.6 371.6,193.1 369.1,194.4 367.2,193.8 366.0,191.2 362.9,186.9 360.4,182.5Z"/>
<path d="M367.9,194.4 372.2,197.5 373.5,202.5 372.2,206.9 369.1,208.8 366.0,211.2 364.1,215.0 362.9,220.0 361.6,225.0 360.4,230.0"/>
<path d="M372.2,193.1 374.8,196.2 376.6,200.0 377.9,206.2 377.2,212.5 378.5,217.5 380.4,221.2 382.9,223.8 378.5,224.8 373.5,224.4 369.1,225.0 367.9,228.1 369.1,230.0"/>
<path d="M360.4,225.0 359.1,230.0 356.0,233.8 354.1,238.8 351.0,242.5 349.1,248.8 346.6,253.8 344.8,258.8 341.6,263.8 339.1,261.2 336.0,257.5"/>
<path d="M367.9,225.0 367.2,228.1 369.8,231.2 373.5,235.0 377.2,238.8 379.8,243.8 381.6,248.8 382.5,251.2"/>
<path d="M382.5,251.2 387.2,250.0 391.0,248.1 393.5,250.0 398.5,248.1 403.5,246.9 408.5,245.0 413.5,241.2 415.4,236.9 421.0,235.0 427.2,233.1 432.2,230.0 434.8,226.2 436.0,225.0"/>
<path d="M382.5,251.2 379.8,255.0 376.6,261.2 373.5,266.2 371.6,269.4 372.9,275.0 373.5,280.0 374.8,286.2 377.2,291.2 378.5,295.0"/>
<path d="M410.4,295.0 411.0,288.8 413.5,283.8 417.2,280.0 421.0,278.8 424.8,281.2 428.5,285.0 432.2,286.9 436.0,287.5"/>
<path d="M452.2,160.0 451.6,165.0 449.1,168.8 446.6,172.5 447.9,176.2 444.8,180.0 445.4,185.0 442.9,188.8 441.6,191.9 445.4,193.8 447.2,197.5 448.5,202.5 451.0,207.5 452.2,211.2 451.0,212.5"/>
<path d="M436.0,221.2 439.8,216.2 444.8,213.1 451.0,212.5"/>
<path d="M451.0,212.5 454.8,217.5 457.2,222.5 458.5,227.5 458.5,230.0"/>
<path d="M459.1,225.0 458.5,230.0 456.6,233.8 457.9,237.5 462.9,239.4 464.1,243.1 468.5,245.0 472.2,248.8 474.8,253.1 479.1,256.9 483.5,261.2 485.4,266.2 489.8,270.0 492.9,274.4 493.5,278.8 497.2,282.5 500.4,286.2 504.1,287.5"/>
<path d="M436.0,288.8 441.0,290.0 447.2,289.4 449.8,285.0 451.6,282.5 454.8,284.4 460.4,281.9 467.2,280.0 473.5,278.8 476.0,276.2 481.0,278.1 487.2,279.4 491.6,278.1 493.5,278.8"/>
<path d="M564.6,214.4 561.2,215.5 559.4,221.2 558.5,230.2 556.6,238.2 553.2,241.6 548.7,245.0 548.0,248.4 554.4,250.6 557.8,256.3 562.3,261.9 565.7,264.7"/>
<path d="M559.4,203.0 561.2,206.4 565.7,207.6"/>
<path d="M300.0,286.2 305.0,285.0 311.2,284.4 313.8,282.5 315.6,284.4 317.5,282.5 318.8,286.2 320.0,290.0 323.1,291.9 326.2,291.2 326.9,295.6 328.1,300.0 328.8,305.0 328.5,312.5 326.9,317.5 325.0,322.5 325.6,326.2 323.8,330.0 325.0,333.8 323.1,336.2 324.4,340.0 321.9,343.8 318.8,345.0 319.4,350.0"/>
<path d="M316.9,294.4 319.4,295.0 318.1,298.8 315.6,300.6 314.4,298.8 315.6,295.6Z"/>
<path d="M304.5,318.5 305.1,318.5 305.1,319.1 304.5,319.1Z" fill="#000"/>
<path d="M328.5,312.5 341.9,312.2 341.9,325.0 325.6,324.8"/>
<path d="M341.9,312.2 343.1,311.2 350.0,311.2 360.0,311.2 370.0,312.2 375.0,313.1 380.0,315.0 385.0,316.2 386.9,317.5"/>
<path d="M360.0,311.2 359.4,317.5 360.0,322.5 365.0,321.9 369.4,321.2 371.2,324.4 371.9,328.1 368.8,330.6 366.9,333.8 367.5,338.8 370.0,342.5 371.9,346.2 372.5,350.0"/>
<path d="M373.8,280.0 375.0,283.8 378.1,288.8 378.8,293.8 382.5,300.0 386.2,305.0 387.5,310.0 386.9,317.5"/>
<path d="M386.9,317.5 388.1,311.2 389.4,305.0 391.2,297.5 395.0,296.2 400.0,295.0"/>
<path d="M295.9,332.7 297.5,332.3 298.7,334.7 297.5,337.4 295.7,335.9Z"/>
<path d="M287.7,352.8 288.9,352.8 288.9,354.0 287.7,354.0Z" fill="#000"/>
<path d="M317.5,345.0 320.0,348.8 322.5,353.8 324.4,358.8 326.9,363.8 330.6,368.8 334.4,373.8 338.1,378.1 341.2,381.2 344.4,386.2 346.9,391.2 348.8,395.0 350.0,400.0 350.6,405.0 351.9,407.5 353.8,412.5 355.0,415.0"/>
<path d="M372.5,345.0 371.9,352.5 370.0,358.8 368.1,363.8 365.6,361.9 363.1,363.8 358.8,362.5 356.2,359.4 353.8,358.1 352.5,361.9 348.1,363.8 345.0,365.0 344.4,368.8 346.2,371.2 347.5,375.0 346.9,378.8 343.8,378.1 341.2,380.6"/>
<path d="M348.5,393.5 351.9,390.6 355.6,387.9 357.8,389.0 355.0,392.5 353.8,396.2 353.5,400.6 351.0,403.5"/>
<path d="M357.8,389.0 361.2,391.2 362.5,392.5 365.0,388.1 370.0,386.2 371.2,392.5 375.0,391.9 380.0,386.2 382.5,383.8 386.2,378.8 388.1,373.8 388.8,367.5 389.4,361.2 391.9,355.0 395.0,350.6 400.0,347.5"/>
<path d="M350.6,406.2 355.0,403.8 360.0,403.5 370.0,403.5 391.9,403.5 393.1,408.8 394.4,415.0"/>
<path d="M350.6,406.2 355.0,403.8 358.8,403.8" stroke-width="2.0"/>
<path d="M380.0,384.8 382.5,384.8 381.5,386.2Z" fill="#000"/>
<path d="M329.0,346.5 331.2,347.8 329.8,349.8Z" fill="#000"/>
<path d="M322.2,352.8 324.0,355.0 322.5,355.2Z" fill="#000"/>
<path d="M328.1,364.8 330.0,366.2 328.5,366.5Z" fill="#000"/>
<path d="M400.0,295.0 405.0,296.2 410.0,296.2"/>
<path d="M417.5,280.0 414.4,283.8 411.9,287.5 410.6,292.5 410.0,296.2 409.4,302.5 407.5,308.8 405.6,315.0 404.4,322.5 403.8,330.0 403.1,336.2 402.5,342.5 403.8,346.2 405.0,348.1"/>
<path d="M423.1,280.0 426.2,282.5 428.8,285.6 435.0,287.5 441.2,289.4 446.9,290.0 450.0,285.6 451.9,282.5 456.2,283.1 461.2,281.2 465.0,280.0"/>
<path d="M416.2,318.8 423.1,315.9" stroke-width="1.9"/>
<path d="M431.2,314.5 436.2,313.8" stroke-width="1.9"/>
<path d="M453.1,316.2 454.8,319.4" stroke-width="1.8"/>
<path d="M403.8,344.4 405.6,345.0 406.2,348.1 404.4,348.5Z" fill="#000"/>
<path d="M406.9,355.6 409.0,357.5 408.1,361.2 409.8,362.5 407.8,366.2 406.9,368.5 406.2,363.8 406.5,358.8Z" fill="#000"/>
<path d="M403.1,345.0 405.6,345.0 406.0,347.2 404.0,346.9Z" fill="#000"/>
<path d="M490.0,278.4 493.4,280.1 496.8,283.5 501.3,286.3 505.3,286.9 510.4,285.8 513.8,284.1 516.6,285.8 518.9,289.7 522.3,293.1 524.6,296.0 526.8,295.4"/>
<path d="M526.8,295.4 529.7,294.3 533.1,295.4 535.9,294.3 538.7,296.5 542.1,294.8 545.5,293.7 548.9,293.1 552.3,294.3 555.7,290.9 558.0,287.5 561.4,284.1 564.8,282.0"/>
<path d="M557.4,289.7 558.6,293.1 560.8,296.5 562.0,301.1 563.7,304.5 564.8,307.0"/>
<path d="M526.8,295.4 526.8,301.1 525.7,304.5 526.3,308.4 529.1,310.1 531.4,311.3"/>
<path d="M532.5,310.1 531.4,314.7 528.5,319.8 525.7,323.7 524.0,324.9 523.8,323.2 525.7,319.2 528.5,314.7 530.8,311.3Z"/>
<path d="M531.7,311.5 529.1,316.4 526.3,321.5 524.2,324.3"/>
<path d="M524.0,324.9 521.7,327.1 519.5,330.5 517.8,335.1 516.1,339.6 514.4,343.0 513.2,345.0"/>
<path d="M516.3,338.5 515.6,341.9 514.0,345.0 513.2,345.0 514.4,341.9Z"/>
<path d="M539.9,318.1 543.3,317.5 545.5,315.8 546.7,317.5 551.8,317.8 548.9,319.8 550.1,322.0 547.2,321.5 544.4,320.3 542.1,319.8Z" fill="#000"/>
<path d="M535.3,345.0 536.5,341.3 538.7,339.0 539.9,337.3 543.3,335.6 546.7,334.5 548.9,332.8 551.8,333.4 554.6,335.1 556.9,336.8 558.0,339.6 557.4,343.0 556.9,345.0"/>
<path d="M538.7,339.0 539.9,341.9 538.2,343.6"/>
<path d="M564.8,322.6 562.0,326.0 559.7,329.4 558.0,332.8 556.9,336.8"/>
<path d="M558.0,340.7 561.4,339.6 564.8,339.0"/>
<path d="M515.5,340.0 514.4,344.5 514.4,349.1 513.8,352.5"/>
<path d="M513.2,340.0 514.0,340.0 513.6,344.5 512.7,345.1Z"/>
<path d="M513.8,352.5 517.2,351.3 520.6,349.6 525.1,348.2 535.3,348.2 556.3,348.2 558.0,349.1 564.8,353.8"/>
<path d="M538.7,340.0 536.5,343.4 535.3,347.9 534.8,353.6 534.2,359.3 534.8,362.7 536.5,364.4 535.3,368.3 537.0,369.5 538.7,366.1 540.4,363.8 542.7,364.4 544.4,366.1 546.1,367.8 545.0,370.6 546.7,370.0 548.4,366.6 551.2,364.4 554.0,362.7 554.6,361.0 551.8,362.1 548.9,361.0 546.1,360.4 546.7,359.3 550.1,358.7 552.3,357.0 554.0,354.2 555.7,351.3 556.9,348.2 558.0,344.5 559.1,341.7 560.8,340.0"/>
<path d="M513.8,352.5 511.0,355.9 508.7,360.4 508.1,364.9 509.3,367.2"/>
<path d="M510.2,355.9 509.0,360.4 508.4,365.5" stroke-width="2.2"/>
<path d="M525.1,348.2 526.8,352.5 527.2,357.0 526.3,361.5 524.0,364.4 520.6,364.4 518.3,365.5 517.8,367.8 514.4,368.3 511.5,367.8 509.3,367.2"/>
<path d="M524.0,364.4 524.0,369.5 526.3,372.3 525.1,375.1 523.4,378.5 521.7,381.9 520.0,384.8 517.2,386.5 514.4,387.0"/>
<path d="M509.3,367.2 510.4,371.2 511.0,375.1 510.4,379.7 509.9,386.5"/>
<path d="M511.1,374.0 509.9,386.5 513.3,386.0Z" fill="#000"/>
<path d="M511.0,386.5 510.4,392.1 511.5,398.9 511.0,404.6 512.7,410.0" stroke-width="0.95"/>
<path d="M512.7,386.5 512.7,392.1 513.8,398.9 513.8,404.6 514.9,410.0" stroke-width="0.95"/>
<path d="M514.4,387.0 515.5,392.1 517.2,398.9 518.3,403.5 516.6,408.0 517.2,410.0" stroke-width="0.95"/>
<path d="M348.8,395.0 350.0,400.0 351.2,403.8 351.9,405.6"/>
<path d="M353.1,395.0 353.1,400.0 351.9,403.8"/>
<path d="M351.2,406.0 355.0,404.0 362.5,403.8 372.5,404.0 382.5,403.5 391.2,403.5 392.5,407.5 395.0,416.2 398.1,423.8 401.2,428.8 406.2,428.5 411.2,427.8 417.5,428.1 418.1,423.8 420.0,417.5 425.0,416.5 429.4,415.6 429.4,419.4 440.0,419.4"/>
<path d="M351.2,406.0 353.8,412.5 356.2,418.8 358.8,425.0 360.6,431.2 361.2,435.0 358.8,437.5 357.5,440.0 359.4,445.0 361.2,450.0 363.8,456.2 365.6,460.0 365.6,465.0"/>
<path d="M365.6,459.6 365.2,471.9 362.1,478.1 358.0,482.2 353.9,490.4"/>
<path d="M430.0,419.4 441.2,419.4 441.9,425.0 442.5,432.5 441.9,437.5 441.2,442.5 442.5,447.5 445.0,452.5 445.6,458.8 445.0,462.5 445.6,465.0 448.8,462.5 455.0,461.9 461.2,461.2 462.8,460.6"/>
<path d="M462.8,460.6 462.8,470.0"/>
<path d="M462.8,460.6 464.4,463.8 466.2,465.6 471.2,465.0 474.4,465.0 475.0,470.0"/>
<path d="M511.2,400.0 510.6,405.0 513.1,408.8 516.2,413.8 518.8,418.8 521.2,425.0 523.1,431.2 525.0,435.0 528.1,436.9" stroke-width="0.95"/>
<path d="M514.4,400.0 513.8,404.4 516.2,408.1 519.4,413.1 521.9,418.8 523.8,425.0 526.2,430.6 529.4,433.8" stroke-width="0.95"/>
<path d="M516.9,400.0 517.5,404.4 520.6,409.4 523.1,414.4 525.0,420.0 526.9,425.6 528.8,430.0 530.0,431.9" stroke-width="0.95"/>
<path d="M508.1,433.8 515.0,431.9 523.1,430.6"/>
<path d="M502.5,441.2 507.5,434.4 510.6,435.6 505.6,443.1 503.1,445.0Z"/>
<path d="M503.8,442.5 508.8,435.2"/>
<path d="M513.8,438.1 516.2,433.8 518.8,433.5 516.2,438.8Z"/>
<path d="M503.8,445.0 505.6,447.5 505.0,453.8 503.8,460.0 502.5,465.0 503.8,470.0"/>
<path d="M483.1,435.6 485.0,433.8 486.5,434.8 484.5,436.6Z" fill="#000"/>
<path d="M489.4,460.0 492.0,460.0 490.8,462.5Z" fill="#000"/>
<path d="M513.8,465.0 516.2,461.2 518.8,460.6 519.4,462.5 516.9,466.2 514.4,466.9Z"/>
<path d="M515.0,465.2 517.8,461.9"/>
<path d="M462.8,465.0 462.2,471.2 461.2,477.5 460.6,482.5 461.9,484.4 442.5,484.8 442.5,520.0 444.4,525.0 448.8,530.0 453.1,535.0"/>
<path d="M466.2,465.0 466.9,466.9 471.2,465.6 473.8,465.0 475.0,469.4 480.0,471.2 485.0,473.1 488.8,473.8 491.2,468.8 493.8,471.9 496.2,476.2 501.2,478.1 504.4,481.2 506.9,485.0 509.4,488.8 513.8,487.5 516.2,489.4 516.5,475.6 513.8,477.5 510.0,476.9 506.9,473.8 504.4,471.2 503.1,468.1 503.8,465.0"/>
<path d="M530.0,503.8 520.6,507.5 521.9,511.2 522.5,515.0 523.1,518.8 530.0,519.4"/>
<path d="M522.5,515.0 516.2,514.4 511.2,515.6 508.1,518.8 508.1,523.8 505.0,526.2 501.2,527.5 498.1,530.0 495.0,533.8 493.8,535.0"/>
<path d="M508.1,525.0 505.0,526.2 501.2,527.5 498.1,530.0 495.0,533.8 493.8,535.0" stroke-width="2.4"/>
<path d="M510.3,395.0 511.7,400.5 511.0,404.6 513.8,408.8 517.9,412.9 520.6,418.4 521.3,423.9 524.1,429.4 524.8,432.8" stroke-width="0.95"/>
<path d="M513.8,395.0 514.4,400.5 513.8,403.9 516.5,408.1 519.9,412.2 522.7,417.0 524.1,422.5 526.1,428.0 527.5,433.5" stroke-width="0.95"/>
<path d="M516.5,395.0 517.9,400.5 516.5,404.6 519.3,408.8 522.7,412.2 524.8,417.0 526.1,422.5 528.2,428.7 529.6,434.9" stroke-width="0.95"/>
<path d="M524.1,430.5 527.5,434.9 533.0,437.0 538.5,440.4 544.0,443.1 548.8,445.2 552.3,445.9 556.4,444.5"/>
<path d="M535.8,423.2 538.5,424.6 541.3,428.0 544.0,430.8 545.4,432.8 543.3,433.5 540.6,430.1 537.1,428.0 535.5,425.3Z"/>
<path d="M548.8,445.2 550.9,450.0 553.0,455.5 551.6,461.0 550.2,466.5 551.6,472.0 550.9,477.5 551.6,480.0"/>
<path d="M556.4,444.5 559.1,447.3 561.2,452.8 562.6,459.6 563.3,466.5 562.6,472.0 561.9,480.0" stroke-width="0.95"/>
<path d="M555.7,446.6 557.8,452.8 559.1,459.6 559.8,466.5 558.5,473.4 559.1,480.0" stroke-width="0.95"/>
<path d="M560.5,469.3 561.2,474.8 560.5,480.0" stroke-width="0.95"/>
<path d="M550.9,475.0 550.2,479.4 547.3,482.3 546.6,488.1 544.4,491.7 545.9,495.4 548.0,496.8"/>
<path d="M548.0,496.8 536.4,501.2 520.4,507.0 521.8,514.3 522.1,518.7"/>
<path d="M548.0,496.8 550.2,499.7 553.1,502.7 558.2,501.2 561.1,501.9 562.6,507.0 561.1,512.8 559.0,517.2 560.4,520.9 563.3,523.8 564.8,525.2"/>
<path d="M557.5,475.0 559.7,480.8 561.1,488.1 561.9,495.4 562.6,500.5" stroke-width="0.95"/>
<path d="M560.4,475.0 561.9,482.3 562.9,489.6 563.3,496.8" stroke-width="0.95"/>
<path d="M562.6,475.0 563.8,480.8" stroke-width="0.95"/>
<path d="M522.1,518.7 529.1,519.4 534.9,522.3 540.8,524.5 545.1,526.7 546.6,530.3 546.9,536.1 546.3,543.4 545.1,549.2 544.4,553.6 545.9,558.7 546.6,562.3"/>
<path d="M522.1,514.3 516.0,514.0 511.6,515.5 508.7,517.9 507.3,521.6 506.6,525.2 502.9,526.7 500.0,529.6"/>
<path d="M507.6,525.2 502.9,527.0 500.0,529.6" stroke-width="2.4"/>
<path d="M525.5,514.3 533.5,514.6 543.7,513.6" stroke-width="2.0"/>
<path d="M353.6,490.0 352.5,499.0 349.1,508.0 345.8,517.0 345.3,526.0 346.2,532.8 345.8,539.5 349.1,546.3 353.6,555.3 357.0,562.5"/>
<path d="M346.2,532.3 353.6,531.6 359.3,530.1 363.8,532.8 367.1,535.0 408.8,534.6 412.1,538.4 420.0,539.5 429.0,540.6 435.8,541.8 447.0,539.5 458.3,536.8 465.0,535.7 470.6,537.3"/>
<path d="M457.1,536.1 452.6,531.6 447.0,526.0 442.5,520.4"/>
<path d="M433.5,562.5 433.5,544.7 442.5,542.9 454.9,541.3 458.3,546.3 462.8,542.9 467.3,541.8 471.8,539.1"/>
<path d="M470.6,537.3 475.1,544.0 479.6,553.0 483.0,558.6 487.5,562.5"/>
<path d="M470.6,537.3 476.3,539.5 483.0,540.6 488.6,541.8 492.0,538.4 495.4,532.8"/>
</g>
<rect x="236.3" y="54.6" width="328.4" height="508.2" fill="none" stroke="#000" stroke-width="1.5"/>
<line x1="232.3" y1="110.7" x2="236.3" y2="110.7" stroke="#000" stroke-width="1.3"/><text class="ax" transform="translate(230.1,115.0) scale(0.93,1)" text-anchor="end">20N</text>
<line x1="232.3" y1="167.4" x2="236.3" y2="167.4" stroke="#000" stroke-width="1.3"/><text class="ax" transform="translate(230.1,171.7) scale(0.93,1)" text-anchor="end">15N</text>
<line x1="232.3" y1="224.0" x2="236.3" y2="224.0" stroke="#000" stroke-width="1.3"/><text class="ax" transform="translate(230.1,228.3) scale(0.93,1)" text-anchor="end">10N</text>
<line x1="232.3" y1="280.7" x2="236.3" y2="280.7" stroke="#000" stroke-width="1.3"/><text class="ax" transform="translate(230.1,285.0) scale(0.93,1)" text-anchor="end">5N</text>
<line x1="232.3" y1="337.3" x2="236.3" y2="337.3" stroke="#000" stroke-width="1.3"/><text class="ax" transform="translate(230.1,341.6) scale(0.93,1)" text-anchor="end">EQ</text>
<line x1="232.3" y1="393.9" x2="236.3" y2="393.9" stroke="#000" stroke-width="1.3"/><text class="ax" transform="translate(230.1,398.2) scale(0.93,1)" text-anchor="end">5S</text>
<line x1="232.3" y1="450.6" x2="236.3" y2="450.6" stroke="#000" stroke-width="1.3"/><text class="ax" transform="translate(230.1,454.9) scale(0.93,1)" text-anchor="end">10S</text>
<line x1="232.3" y1="507.2" x2="236.3" y2="507.2" stroke="#000" stroke-width="1.3"/><text class="ax" transform="translate(230.1,511.6) scale(0.93,1)" text-anchor="end">15S</text>
<line x1="262.9" y1="562.8" x2="262.9" y2="566.4" stroke="#000" stroke-width="1.3"/><text class="ax" transform="translate(263.8,577.6) scale(0.93,1)" text-anchor="middle">3E</text>
<line x1="291.3" y1="562.8" x2="291.3" y2="566.4" stroke="#000" stroke-width="1.3"/><text class="ax" transform="translate(292.2,577.6) scale(0.93,1)" text-anchor="middle">6E</text>
<line x1="319.6" y1="562.8" x2="319.6" y2="566.4" stroke="#000" stroke-width="1.3"/><text class="ax" transform="translate(320.5,577.6) scale(0.93,1)" text-anchor="middle">9E</text>
<line x1="348.0" y1="562.8" x2="348.0" y2="566.4" stroke="#000" stroke-width="1.3"/><text class="ax" transform="translate(348.9,577.6) scale(0.93,1)" text-anchor="middle">12E</text>
<line x1="376.4" y1="562.8" x2="376.4" y2="566.4" stroke="#000" stroke-width="1.3"/><text class="ax" transform="translate(377.3,577.6) scale(0.93,1)" text-anchor="middle">15E</text>
<line x1="404.7" y1="562.8" x2="404.7" y2="566.4" stroke="#000" stroke-width="1.3"/><text class="ax" transform="translate(405.6,577.6) scale(0.93,1)" text-anchor="middle">18E</text>
<line x1="433.1" y1="562.8" x2="433.1" y2="566.4" stroke="#000" stroke-width="1.3"/><text class="ax" transform="translate(434.0,577.6) scale(0.93,1)" text-anchor="middle">21E</text>
<line x1="461.5" y1="562.8" x2="461.5" y2="566.4" stroke="#000" stroke-width="1.3"/><text class="ax" transform="translate(462.4,577.6) scale(0.93,1)" text-anchor="middle">24E</text>
<line x1="489.8" y1="562.8" x2="489.8" y2="566.4" stroke="#000" stroke-width="1.3"/><text class="ax" transform="translate(490.7,577.6) scale(0.93,1)" text-anchor="middle">27E</text>
<line x1="518.2" y1="562.8" x2="518.2" y2="566.4" stroke="#000" stroke-width="1.3"/><text class="ax" transform="translate(519.1,577.6) scale(0.93,1)" text-anchor="middle">30E</text>
<line x1="546.6" y1="562.8" x2="546.6" y2="566.4" stroke="#000" stroke-width="1.3"/><text class="ax" transform="translate(547.5,577.6) scale(0.93,1)" text-anchor="middle">33E</text>
<polygon points="674.6,108.7 682.0,72.5 689.4,108.7" fill="#1464d2" stroke="#000" stroke-width="1.2" stroke-linejoin="miter"/>
<rect x="674.6" y="108.70" width="14.8" height="36.35" fill="#1e6eeb" stroke="#000" stroke-width="1.2"/>
<rect x="674.6" y="145.05" width="14.8" height="36.35" fill="#3c96f5" stroke="#000" stroke-width="1.2"/>
<rect x="674.6" y="181.39" width="14.8" height="36.35" fill="#0fa00f" stroke="#000" stroke-width="1.2"/>
<rect x="674.6" y="217.74" width="14.8" height="36.35" fill="#1eb41e" stroke="#000" stroke-width="1.2"/>
<rect x="674.6" y="254.08" width="14.8" height="36.35" fill="#37d23c" stroke="#000" stroke-width="1.2"/>
<rect x="674.6" y="290.43" width="14.8" height="36.35" fill="#50f050" stroke="#000" stroke-width="1.2"/>
<rect x="674.6" y="326.77" width="14.8" height="36.35" fill="#78f573" stroke="#000" stroke-width="1.2"/>
<rect x="674.6" y="363.12" width="14.8" height="36.35" fill="#96f58c" stroke="#000" stroke-width="1.2"/>
<rect x="674.6" y="399.46" width="14.8" height="36.35" fill="#b4faaa" stroke="#000" stroke-width="1.2"/>
<rect x="674.6" y="435.81" width="14.8" height="36.35" fill="#c8ffbe" stroke="#000" stroke-width="1.2"/>
<rect x="674.6" y="472.15" width="14.8" height="36.35" fill="#e6ffe1" stroke="#000" stroke-width="1.2"/>
<polygon points="674.6,508.5 682.0,545 689.4,508.5" fill="#fff" stroke="#000" stroke-width="1.2"/>
<text class="cb" x="693.6" y="114.1" textLength="17.6" lengthAdjust="spacingAndGlyphs">99</text>
<text class="cb" x="693.6" y="150.4" textLength="17.6" lengthAdjust="spacingAndGlyphs">97</text>
<text class="cb" x="693.6" y="186.8" textLength="17.6" lengthAdjust="spacingAndGlyphs">95</text>
<text class="cb" x="693.6" y="223.1" textLength="17.6" lengthAdjust="spacingAndGlyphs">92</text>
<text class="cb" x="693.6" y="259.5" textLength="17.6" lengthAdjust="spacingAndGlyphs">90</text>
<text class="cb" x="693.6" y="295.8" textLength="17.6" lengthAdjust="spacingAndGlyphs">85</text>
<text class="cb" x="693.6" y="332.2" textLength="17.6" lengthAdjust="spacingAndGlyphs">80</text>
<text class="cb" x="693.6" y="368.5" textLength="17.6" lengthAdjust="spacingAndGlyphs">75</text>
<text class="cb" x="693.6" y="404.9" textLength="17.6" lengthAdjust="spacingAndGlyphs">70</text>
<text class="cb" x="693.6" y="441.2" textLength="17.6" lengthAdjust="spacingAndGlyphs">60</text>
<text class="cb" x="693.6" y="477.6" textLength="17.6" lengthAdjust="spacingAndGlyphs">50</text>
<text class="cb" x="693.6" y="513.9" textLength="17.6" lengthAdjust="spacingAndGlyphs">40</text>
<text class="ft" x="4.4" y="614.4" textLength="103.2" lengthAdjust="spacing">GrADS: IGES/COLA</text>
</svg>
</body></html>
